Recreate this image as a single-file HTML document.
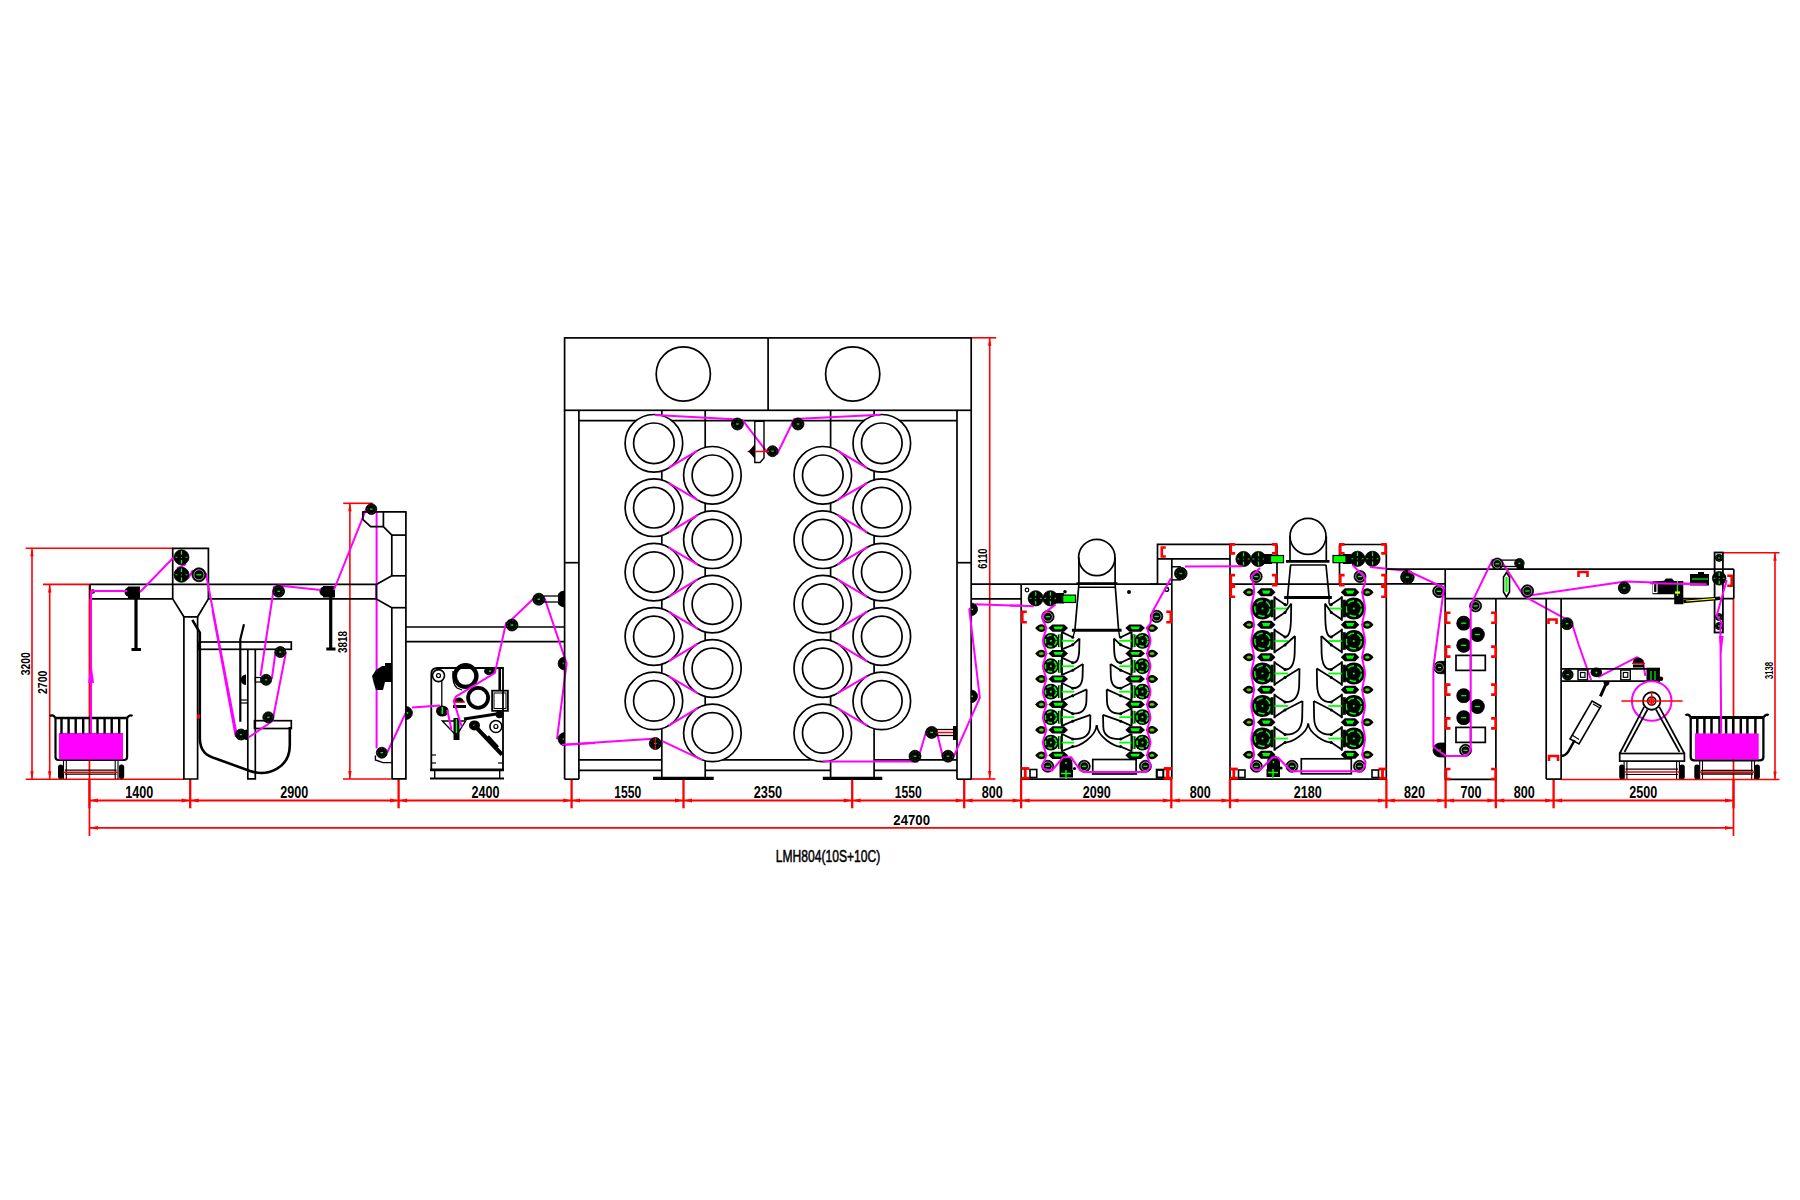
<!DOCTYPE html>
<html><head><meta charset="utf-8"><style>
html,body{margin:0;padding:0;background:#fff;width:1800px;height:1200px;overflow:hidden}
svg{display:block}
.k{stroke:#000;stroke-width:1.7;fill:none}
.kf{fill:#000;stroke:none}
.bf{fill:#000;stroke:#000;stroke-width:0.8}
.w{stroke:#fff;fill:none}
.wk{stroke:#000;stroke-width:1.7;fill:#fff}
.r{stroke:#f00;stroke-width:1.6;fill:none}
.rf{fill:#f00;stroke:none}
.m{stroke:#f0f;stroke-width:2;fill:none;stroke-linejoin:round}
.mf{fill:#f0f;stroke:none}
.g{stroke:#0f0;fill:none}
.gf{fill:#0f0;stroke:none}
.y{stroke:#ff0;fill:none}
.t{font-family:"Liberation Sans",sans-serif;font-weight:bold;fill:#000}
text{-webkit-font-smoothing:antialiased}
.t2{font-family:"Liberation Sans",sans-serif;fill:#000;stroke:#000;stroke-width:0.5}
</style></head><body>
<svg width="1800" height="1200" viewBox="0 0 1800 1200">
<line class="r" x1="89.45" y1="800.5" x2="1733.5" y2="800.5" style="stroke-width:1.8"/>
<line class="r" x1="89.45" y1="779" x2="89.45" y2="808.3" style="stroke-width:2.3"/>
<polygon class="rf" points="89.45,800.5 97.95,798.6 97.95,802.4"/>
<line class="r" x1="190.2" y1="779" x2="190.2" y2="808.3" style="stroke-width:2.3"/>
<polygon class="rf" points="190.2,800.5 181.7,798.6 181.7,802.4"/>
<polygon class="rf" points="190.2,800.5 198.7,798.6 198.7,802.4"/>
<line class="r" x1="398.6" y1="779" x2="398.6" y2="808.3" style="stroke-width:2.3"/>
<polygon class="rf" points="398.6,800.5 390.1,798.6 390.1,802.4"/>
<polygon class="rf" points="398.6,800.5 407.1,798.6 407.1,802.4"/>
<line class="r" x1="571.6" y1="779" x2="571.6" y2="808.3" style="stroke-width:2.3"/>
<polygon class="rf" points="571.6,800.5 563.1,798.6 563.1,802.4"/>
<polygon class="rf" points="571.6,800.5 580.1,798.6 580.1,802.4"/>
<line class="r" x1="683.5" y1="779" x2="683.5" y2="808.3" style="stroke-width:2.3"/>
<polygon class="rf" points="683.5,800.5 675,798.6 675,802.4"/>
<polygon class="rf" points="683.5,800.5 692,798.6 692,802.4"/>
<line class="r" x1="852.2" y1="779" x2="852.2" y2="808.3" style="stroke-width:2.3"/>
<polygon class="rf" points="852.2,800.5 843.7,798.6 843.7,802.4"/>
<polygon class="rf" points="852.2,800.5 860.7,798.6 860.7,802.4"/>
<line class="r" x1="964.2" y1="779" x2="964.2" y2="808.3" style="stroke-width:2.3"/>
<polygon class="rf" points="964.2,800.5 955.7,798.6 955.7,802.4"/>
<polygon class="rf" points="964.2,800.5 972.7,798.6 972.7,802.4"/>
<line class="r" x1="1021.1" y1="779" x2="1021.1" y2="808.3" style="stroke-width:2.3"/>
<polygon class="rf" points="1021.1,800.5 1012.6,798.6 1012.6,802.4"/>
<polygon class="rf" points="1021.1,800.5 1029.6,798.6 1029.6,802.4"/>
<line class="r" x1="1171.3" y1="779" x2="1171.3" y2="808.3" style="stroke-width:2.3"/>
<polygon class="rf" points="1171.3,800.5 1162.8,798.6 1162.8,802.4"/>
<polygon class="rf" points="1171.3,800.5 1179.8,798.6 1179.8,802.4"/>
<line class="r" x1="1230" y1="779" x2="1230" y2="808.3" style="stroke-width:2.3"/>
<polygon class="rf" points="1230,800.5 1221.5,798.6 1221.5,802.4"/>
<polygon class="rf" points="1230,800.5 1238.5,798.6 1238.5,802.4"/>
<line class="r" x1="1386.4" y1="779" x2="1386.4" y2="808.3" style="stroke-width:2.3"/>
<polygon class="rf" points="1386.4,800.5 1377.9,798.6 1377.9,802.4"/>
<polygon class="rf" points="1386.4,800.5 1394.9,798.6 1394.9,802.4"/>
<line class="r" x1="1445.6" y1="779" x2="1445.6" y2="808.3" style="stroke-width:2.3"/>
<polygon class="rf" points="1445.6,800.5 1437.1,798.6 1437.1,802.4"/>
<polygon class="rf" points="1445.6,800.5 1454.1,798.6 1454.1,802.4"/>
<line class="r" x1="1495.8" y1="779" x2="1495.8" y2="808.3" style="stroke-width:2.3"/>
<polygon class="rf" points="1495.8,800.5 1487.3,798.6 1487.3,802.4"/>
<polygon class="rf" points="1495.8,800.5 1504.3,798.6 1504.3,802.4"/>
<line class="r" x1="1553.6" y1="779" x2="1553.6" y2="808.3" style="stroke-width:2.3"/>
<polygon class="rf" points="1553.6,800.5 1545.1,798.6 1545.1,802.4"/>
<polygon class="rf" points="1553.6,800.5 1562.1,798.6 1562.1,802.4"/>
<line class="r" x1="1733.5" y1="779" x2="1733.5" y2="808.3" style="stroke-width:2.3"/>
<polygon class="rf" points="1733.5,800.5 1725,798.6 1725,802.4"/>
<line class="r" x1="89.45" y1="827.8" x2="1733.5" y2="827.8" style="stroke-width:1.8"/>
<polygon class="rf" points="89.45,827.8 97.95,825.9 97.95,829.7"/>
<polygon class="rf" points="1733.5,827.8 1725,825.9 1725,829.7"/>
<line class="r" x1="89.45" y1="584.4" x2="89.45" y2="836" style="stroke-width:1.7"/>
<line class="r" x1="1733.5" y1="598.5" x2="1733.5" y2="836" style="stroke-width:1.7"/>
<text class="t" x="139.2" y="797.5" font-size="15.8" text-anchor="middle" textLength="28" lengthAdjust="spacingAndGlyphs">1400</text>
<text class="t" x="294.3" y="797.5" font-size="15.8" text-anchor="middle" textLength="28" lengthAdjust="spacingAndGlyphs">2900</text>
<text class="t" x="485.4" y="797.5" font-size="15.8" text-anchor="middle" textLength="28" lengthAdjust="spacingAndGlyphs">2400</text>
<text class="t" x="627.7" y="797.5" font-size="15.8" text-anchor="middle" textLength="27" lengthAdjust="spacingAndGlyphs">1550</text>
<text class="t" x="767.9" y="797.5" font-size="15.8" text-anchor="middle" textLength="28.3" lengthAdjust="spacingAndGlyphs">2350</text>
<text class="t" x="908.3" y="797.5" font-size="15.8" text-anchor="middle" textLength="27" lengthAdjust="spacingAndGlyphs">1550</text>
<text class="t" x="992.2" y="797.5" font-size="15.8" text-anchor="middle" textLength="21" lengthAdjust="spacingAndGlyphs">800</text>
<text class="t" x="1096.7" y="797.5" font-size="15.8" text-anchor="middle" textLength="28" lengthAdjust="spacingAndGlyphs">2090</text>
<text class="t" x="1200.2" y="797.5" font-size="15.8" text-anchor="middle" textLength="21" lengthAdjust="spacingAndGlyphs">800</text>
<text class="t" x="1307.8" y="797.5" font-size="15.8" text-anchor="middle" textLength="28" lengthAdjust="spacingAndGlyphs">2180</text>
<text class="t" x="1414.4" y="797.5" font-size="15.8" text-anchor="middle" textLength="21" lengthAdjust="spacingAndGlyphs">820</text>
<text class="t" x="1470.9" y="797.5" font-size="15.8" text-anchor="middle" textLength="21" lengthAdjust="spacingAndGlyphs">700</text>
<text class="t" x="1524.2" y="797.5" font-size="15.8" text-anchor="middle" textLength="21" lengthAdjust="spacingAndGlyphs">800</text>
<text class="t" x="1643.3" y="797.5" font-size="15.8" text-anchor="middle" textLength="28" lengthAdjust="spacingAndGlyphs">2500</text>
<text class="t" x="911.7" y="824.8" font-size="15.3" text-anchor="middle" textLength="36.7" lengthAdjust="spacingAndGlyphs">24700</text>
<text class="t2" x="775.8" y="862" font-size="16" text-anchor="start" textLength="104.5" lengthAdjust="spacingAndGlyphs">LMH804(10S+10C)</text>
<line class="r" x1="25.7" y1="548.2" x2="172.7" y2="548.2"/>
<line class="r" x1="32" y1="548.2" x2="32" y2="779.2"/>
<polygon class="rf" points="32,548.2 30.3,556.2 33.7,556.2"/>
<polygon class="rf" points="32,779.2 30.3,771.2 33.7,771.2"/>
<line class="r" x1="43" y1="584.4" x2="90" y2="584.4"/>
<line class="r" x1="49.7" y1="584.4" x2="49.7" y2="779.2"/>
<polygon class="rf" points="49.7,584.4 48,592.4 51.4,592.4"/>
<polygon class="rf" points="49.7,779.2 48,771.2 51.4,771.2"/>
<line class="r" x1="25.7" y1="779.2" x2="184" y2="779.2"/>
<text class="t" x="29.9" y="663.8" font-size="13.2" text-anchor="middle" textLength="23" lengthAdjust="spacingAndGlyphs" transform="rotate(-90 29.9 663.8)">3200</text>
<text class="t" x="47.3" y="682.3" font-size="13.2" text-anchor="middle" textLength="23.3" lengthAdjust="spacingAndGlyphs" transform="rotate(-90 47.3 682.3)">2700</text>
<line class="r" x1="343.2" y1="503.3" x2="372.6" y2="503.3"/>
<line class="r" x1="349.9" y1="503.3" x2="349.9" y2="779"/>
<polygon class="rf" points="349.9,503.3 348.2,511.3 351.6,511.3"/>
<polygon class="rf" points="349.9,779 348.2,771 351.6,771"/>
<line class="r" x1="343" y1="779" x2="391" y2="779"/>
<text class="t" x="347" y="642" font-size="12.7" text-anchor="middle" textLength="22" lengthAdjust="spacingAndGlyphs" transform="rotate(-90 347 642)">3818</text>
<line class="r" x1="971" y1="337.8" x2="996.2" y2="337.8"/>
<line class="r" x1="989.7" y1="337.8" x2="989.7" y2="779"/>
<polygon class="rf" points="989.7,337.8 988,345.8 991.4,345.8"/>
<polygon class="rf" points="989.7,779 988,771 991.4,771"/>
<line class="r" x1="971" y1="779" x2="995.4" y2="779"/>
<text class="t" x="987.25" y="558.6" font-size="12.7" text-anchor="middle" textLength="20.25" lengthAdjust="spacingAndGlyphs" transform="rotate(-90 987.25 558.6)">6110</text>
<line class="r" x1="1723.3" y1="552.8" x2="1779.5" y2="552.8"/>
<line class="r" x1="1775" y1="552.8" x2="1775" y2="779.5"/>
<polygon class="rf" points="1775,552.8 1773.3,560.8 1776.7,560.8"/>
<polygon class="rf" points="1775,779.5 1773.3,771.5 1776.7,771.5"/>
<line class="r" x1="1561" y1="779.5" x2="1779.5" y2="779.5"/>
<text class="t" x="1772.75" y="670.5" font-size="10.6" text-anchor="middle" textLength="17" lengthAdjust="spacingAndGlyphs" transform="rotate(-90 1772.75 670.5)">3138</text>
<line class="k" x1="90" y1="584.4" x2="376.3" y2="584.4"/>
<line class="k" x1="90" y1="598.9" x2="172.7" y2="598.9"/>
<line class="k" x1="208.4" y1="598.9" x2="376.3" y2="598.9"/>
<line class="k" x1="90" y1="584.4" x2="90" y2="598.9"/>
<polyline class="k" points="172.7,598.9 172.7,548.3 208.4,548.3 208.4,598.9"/>
<polyline class="k" points="172.7,598.9 183.9,616.8 197.6,616.8 208.4,598.9"/>
<polyline class="k" points="183.9,616.8 183.9,779 197.6,779 197.6,616.8"/>
<line class="k" x1="136" y1="596" x2="136" y2="649" style="stroke-width:3.2"/>
<line class="k" x1="131.5" y1="649.5" x2="141" y2="649.5" style="stroke-width:3"/>
<path class="kf" d="M128,586.5 h12 v11.5 h-12 z"/>
<circle class="kf" cx="129.5" cy="592" r="5"/>
<circle class="k" cx="92.8" cy="591.5" r="1.6" style="stroke-width:1.2"/>
<line class="k" x1="330.7" y1="596" x2="330.7" y2="648.6" style="stroke-width:3.2"/>
<line class="k" x1="326.3" y1="649" x2="335.5" y2="649" style="stroke-width:3"/>
<path class="kf" d="M323,586 h12 v11.5 h-12 z"/>
<circle class="kf" cx="324.5" cy="591.5" r="5"/>
<path class="k" d="M50,716.2 q2.5,-2.5 5.5,1.8" style="stroke-width:2.2"/>
<path class="k" d="M127,718 q3,-4 5.5,-2" style="stroke-width:2.2"/>
<line class="k" x1="55.5" y1="718" x2="127.1" y2="718" style="stroke-width:2.4"/>
<path class="k" d="M55.5,718 L55.5,757 Q55.5,760 58.5,760 L124,760 Q127.1,760 127.1,757 L127.1,718" style="stroke-width:2.2"/>
<rect class="mf" x="58.9" y="733" width="64.1" height="26.6"/>
<line class="k" x1="61.5" y1="718" x2="61.5" y2="733.5" style="stroke-width:2.4"/>
<line class="k" x1="68.6" y1="718" x2="68.6" y2="733.5" style="stroke-width:2.4"/>
<line class="k" x1="75.7" y1="718" x2="75.7" y2="733.5" style="stroke-width:2.4"/>
<line class="k" x1="83.2" y1="718" x2="83.2" y2="733.5" style="stroke-width:2.4"/>
<line class="k" x1="90" y1="718" x2="90" y2="733.5" style="stroke-width:2.4"/>
<line class="k" x1="97.5" y1="718" x2="97.5" y2="733.5" style="stroke-width:2.4"/>
<line class="k" x1="104.6" y1="718" x2="104.6" y2="733.5" style="stroke-width:2.4"/>
<line class="k" x1="111.7" y1="718" x2="111.7" y2="733.5" style="stroke-width:2.4"/>
<line class="k" x1="119.2" y1="718" x2="119.2" y2="733.5" style="stroke-width:2.4"/>
<line class="k" x1="63.5" y1="760" x2="63.5" y2="779" style="stroke-width:1.1"/>
<line class="k" x1="66.3" y1="760" x2="66.3" y2="779" style="stroke-width:1.1"/>
<line class="k" x1="115.2" y1="760" x2="115.2" y2="779" style="stroke-width:1.1"/>
<line class="k" x1="118" y1="760" x2="118" y2="779" style="stroke-width:1.1"/>
<line class="k" x1="64.9" y1="770.1" x2="116.6" y2="770.1" style="stroke-width:1.2"/>
<line class="k" x1="64.9" y1="774.2" x2="116.6" y2="774.2" style="stroke-width:1.2"/>
<line class="r" x1="63" y1="772.2" x2="118" y2="772.2" style="stroke-width:1.5"/>
<rect x="58" y="764.5" width="5.3" height="14.5" rx="2.5" style="fill:#000"/>
<rect x="118.9" y="764.5" width="5.3" height="14.5" rx="2.5" style="fill:#000"/>
<path class="m" d="M91,733 L91,591 L127,591"/>
<polygon class="mf" points="91,660 88.2,683 94,683"/>
<path class="m" d="M140,592 L174.5,556.5 M186,564 L177,568.5 M188,578.5 L193,570 M205.8,573 L236.6,734"/>
<circle class="bf" cx="181.5" cy="557.3" r="7.5"/>
<line class="g" x1="181.5" y1="550.92" x2="181.5" y2="554.67" style="stroke-width:1.2"/>
<line class="g" x1="181.5" y1="559.92" x2="181.5" y2="563.67" style="stroke-width:1.2"/>
<line class="g" x1="175.5" y1="557.3" x2="177.38" y2="557.3" style="stroke-width:1"/>
<line class="g" x1="185.62" y1="557.3" x2="187.5" y2="557.3" style="stroke-width:1"/>
<circle class="gf" cx="181.5" cy="557.3" r="0.6"/>
<circle class="bf" cx="181.5" cy="574.8" r="7.5"/>
<line class="g" x1="181.5" y1="568.42" x2="181.5" y2="572.17" style="stroke-width:1.2"/>
<line class="g" x1="181.5" y1="577.42" x2="181.5" y2="581.17" style="stroke-width:1.2"/>
<line class="g" x1="175.5" y1="574.8" x2="177.38" y2="574.8" style="stroke-width:1"/>
<line class="g" x1="185.62" y1="574.8" x2="187.5" y2="574.8" style="stroke-width:1"/>
<circle class="gf" cx="181.5" cy="574.8" r="0.6"/>
<circle class="bf" cx="198.9" cy="574.8" r="7"/>
<circle class="w" cx="198.9" cy="574.8" r="5.04" style="stroke-width:0.6"/>
<line class="g" x1="196.45" y1="574.8" x2="201.35" y2="574.8" style="stroke-width:1.3"/>
<path class="k" d="M192.3,619.8 L199.8,632.5 L199.8,737.5 C199.8,752 207,756 217,759 L250,771 C268,777 290,768 289.8,745 L289.8,727" style="stroke-width:2.6"/>
<rect class="k" x="199" y="642" width="92.3" height="7.3"/>
<polyline class="k" points="247.8,649.3 247.8,778.8 255.3,778.8 255.3,649.3"/>
<path class="k" d="M244,624.3 L240.3,639.3 L240.3,721.8" style="stroke-width:2.2"/>
<line class="k" x1="240.3" y1="700" x2="247.8" y2="700" style="stroke-width:1.2"/>
<line class="k" x1="240.3" y1="703" x2="247.8" y2="703" style="stroke-width:1.2"/>
<rect class="k" x="254.5" y="720.7" width="36.8" height="7.8"/>
<rect class="k" x="255.3" y="677.5" width="5.7" height="4.5" style="stroke-width:1.2"/>
<rect class="rf" x="197" y="714.5" width="3" height="4"/>
<path class="m" d="M236.6,734 L236.6,735 M248.5,737.5 L272.5,721 L286,652 M275.5,652 L271.8,679 M260.5,676 L274,587 L278.7,585.5 L320.6,590 M333.9,590 L367.2,506.5 M376.6,511.3 L376.6,748.5 M387.2,752.5 L405.9,712.5"/>
<path class="m" d="M212.5,610 L235.8,736.8"/>
<circle class="bf" cx="280.3" cy="652" r="5.5"/>
<circle cx="280.3" cy="652" r="4.12" style="fill:none;stroke:#2a7a2a;stroke-width:0.6;stroke-dasharray:1.5 1.5"/>
<line class="g" x1="279.09" y1="652" x2="281.51" y2="652" style="stroke-width:1.3"/>
<circle class="bf" cx="266.1" cy="679.8" r="5.5"/>
<circle cx="266.1" cy="679.8" r="4.12" style="fill:none;stroke:#2a7a2a;stroke-width:0.6;stroke-dasharray:1.5 1.5"/>
<line class="g" x1="264.89" y1="679.8" x2="267.31" y2="679.8" style="stroke-width:1.3"/>
<circle class="bf" cx="268.3" cy="717.3" r="5.5"/>
<circle cx="268.3" cy="717.3" r="4.12" style="fill:none;stroke:#2a7a2a;stroke-width:0.6;stroke-dasharray:1.5 1.5"/>
<line class="g" x1="267.09" y1="717.3" x2="269.51" y2="717.3" style="stroke-width:1.3"/>
<circle class="bf" cx="241" cy="734.5" r="5.5"/>
<circle cx="241" cy="734.5" r="4.12" style="fill:none;stroke:#2a7a2a;stroke-width:0.6;stroke-dasharray:1.5 1.5"/>
<line class="g" x1="239.79" y1="734.5" x2="242.21" y2="734.5" style="stroke-width:1.3"/>
<path class="kf" d="M246,674.5 a5,5 0 0,0 0,10.5 z"/>
<path class="kf" d="M247,729.5 a5,5 0 0,0 0,10.5 z"/>
<circle class="bf" cx="278.7" cy="591.3" r="5.9"/>
<circle cx="278.7" cy="591.3" r="4.43" style="fill:none;stroke:#2a7a2a;stroke-width:0.6;stroke-dasharray:1.5 1.5"/>
<line class="g" x1="277.4" y1="591.3" x2="280" y2="591.3" style="stroke-width:1.3"/>
<polyline class="k" points="362.2,511.8 405.9,511.8 405.9,778.9 392.1,778.9 391.8,607.7 376.3,599.1 376.3,584.4 391.8,575.8 391.8,535.1 383.4,526.7 383.4,511.8"/>
<polyline class="k" points="362.8,511.8 362.8,519.4 370.7,526.7 383.4,526.7"/>
<line class="k" x1="391.8" y1="535.1" x2="405.9" y2="535.1"/>
<line class="k" x1="391.8" y1="575.8" x2="405.9" y2="575.8"/>
<line class="k" x1="391.8" y1="607.7" x2="405.9" y2="607.7"/>
<circle class="bf" cx="371.4" cy="509.1" r="5.4"/>
<circle cx="371.4" cy="509.1" r="4.05" style="fill:none;stroke:#2a7a2a;stroke-width:0.6;stroke-dasharray:1.5 1.5"/>
<line class="g" x1="370.21" y1="509.1" x2="372.59" y2="509.1" style="stroke-width:1.3"/>
<path class="kf" d="M372,676 L376,670 L382,666 L385,666 L385,663 L392,663 L392,682 L385,682 L383,690 L376,690 L374,684 Z"/>
<path class="k" d="M375.4,755.6 L375.4,760 L383,762.6 L392.1,762.6" style="stroke-width:1.4"/>
<circle class="bf" cx="381.8" cy="752.7" r="5.5"/>
<circle cx="381.8" cy="752.7" r="4.12" style="fill:none;stroke:#2a7a2a;stroke-width:0.6;stroke-dasharray:1.5 1.5"/>
<line class="g" x1="380.59" y1="752.7" x2="383.01" y2="752.7" style="stroke-width:1.3"/>
<path class="bf" d="M405.9,706.5 A6.5,6.5 0 1,1 405.9,719.5 Z"/>
<circle class="gf" cx="407.5" cy="713" r="0.9"/>
<line class="k" x1="405.9" y1="627" x2="564.7" y2="627"/>
<line class="k" x1="405.9" y1="641.7" x2="564.7" y2="641.7"/>
<path class="k" d="M431.3,769.8 L431.3,674 Q431.3,668 437.5,668 L503,668 L503,769.8" style="stroke-width:1.8"/>
<line class="k" x1="430" y1="769.8" x2="504" y2="769.8" style="stroke-width:2.8"/>
<line class="k" x1="430" y1="778.5" x2="504" y2="778.5" style="stroke-width:2.2"/>
<line class="k" x1="434.7" y1="769.8" x2="434.7" y2="778.5" style="stroke-width:1.4"/>
<line class="k" x1="499.7" y1="769.8" x2="499.7" y2="778.5" style="stroke-width:1.4"/>
<line class="k" x1="431" y1="755" x2="436" y2="755" style="stroke-width:1.2"/>
<line class="k" x1="431" y1="763" x2="436" y2="763" style="stroke-width:1.2"/>
<line class="k" x1="498" y1="763" x2="503" y2="763" style="stroke-width:1.2"/>
<circle class="k" cx="465.6" cy="676.1" r="10.8" style="stroke-width:4.4"/>
<circle class="k" cx="478.1" cy="697.8" r="10" style="stroke-width:3.8"/>
<path class="k" d="M453,671 Q452,684 457,688 L462,690" style="stroke-width:1.3"/>
<circle class="k" cx="438.5" cy="675.6" r="6" style="stroke-width:1.6"/>
<circle class="k" cx="438.5" cy="675.6" r="2" style="stroke-width:1.2"/>
<circle class="k" cx="495.9" cy="726.5" r="6" style="stroke-width:1.6"/>
<circle class="k" cx="495.9" cy="726.5" r="2" style="stroke-width:1.2"/>
<line class="k" x1="441.8" y1="681" x2="441.8" y2="706" style="stroke-width:1.3"/>
<path class="kf" d="M436,711 a6.3,5.6 0 1,0 12.6,0 a6.3,5.6 0 1,0 -12.6,0"/>
<line class="g" x1="442.3" y1="707" x2="442.3" y2="714" style="stroke-width:1.5"/>
<path class="kf" d="M484,671.2 a6,4 0 1,0 12,0 a6,4 0 1,0 -12,0"/>
<circle class="gf" cx="490" cy="671.2" r="1"/>
<path class="kf" d="M454,702.5 a5,5 0 0,1 10,0 z"/>
<line class="r" x1="453" y1="702" x2="465" y2="702" style="stroke-width:1.2"/>
<rect class="kf" x="453" y="705" width="13" height="3"/>
<polygon class="k" points="442.3,721 465.6,721 456.4,735.7" style="stroke-width:1.4"/>
<rect class="kf" x="453.5" y="718" width="6" height="22"/>
<line class="g" x1="456.4" y1="719" x2="456.4" y2="733" style="stroke-width:1.4"/>
<line class="k" x1="499.7" y1="668" x2="499.7" y2="690" style="stroke-width:2.6"/>
<rect class="k" x="492.1" y="690.7" width="15.8" height="20.1" style="stroke-width:1.8"/>
<rect class="k" x="494" y="693" width="12" height="15.5" style="stroke-width:1"/>
<line class="k" x1="464" y1="719" x2="499.7" y2="713.5" style="stroke-width:3.2"/>
<circle class="kf" cx="499.5" cy="714.4" r="3.8"/>
<path class="kf" d="M469,725.4 a5.5,5 0 1,0 11,0 a5.5,5 0 1,0 -11,0"/>
<circle class="gf" cx="474.3" cy="725.4" r="1"/>
<line class="k" x1="474.3" y1="725.4" x2="502" y2="754.6" style="stroke-width:4.2"/>
<line class="k" x1="487" y1="737" x2="497" y2="748" style="stroke-width:5.2"/>
<path class="m" d="M412,707.6 L440.2,705.4 M447.2,709.7 L451.5,729.7 M461.8,727 L453.7,701 L455.9,696.7 L494.9,672.9 L506.2,622.2 M512,619.3 L536,596.3 M544.6,598.2 L566.6,663.4 L557,739.2 M561.8,744.9 L595,743"/>
<circle class="bf" cx="512" cy="625" r="6"/>
<circle cx="512" cy="625" r="4.5" style="fill:none;stroke:#2a7a2a;stroke-width:0.6;stroke-dasharray:1.5 1.5"/>
<line class="g" x1="510.68" y1="625" x2="513.32" y2="625" style="stroke-width:1.3"/>
<circle class="bf" cx="538.8" cy="599.2" r="6"/>
<circle cx="538.8" cy="599.2" r="4.5" style="fill:none;stroke:#2a7a2a;stroke-width:0.6;stroke-dasharray:1.5 1.5"/>
<line class="g" x1="537.48" y1="599.2" x2="540.12" y2="599.2" style="stroke-width:1.3"/>
<path class="bf" d="M564.6,657 A6.3,6.3 0 1,0 564.6,670 Z"/>
<circle class="gf" cx="563.5" cy="663.4" r="0.9"/>
<path class="bf" d="M564.6,732.6 A6.3,6.3 0 1,0 564.6,745.6 Z"/>
<circle class="gf" cx="563.5" cy="739.2" r="0.9"/>
<line class="k" x1="544" y1="596" x2="561" y2="596" style="stroke-width:1.3"/>
<line class="k" x1="544" y1="602" x2="561" y2="602" style="stroke-width:1.3"/>
<path class="kf" d="M558,594 Q561,590 564.6,591 L564.6,607 Q561,608 558,604 Z"/>
<rect class="k" x="564.6" y="337.9" width="406.6" height="72.4"/>
<line class="k" x1="768.1" y1="337.9" x2="768.1" y2="410.3"/>
<circle class="k" cx="683.3" cy="374" r="27.1"/>
<circle class="k" cx="852.7" cy="374" r="27.1"/>
<line class="k" x1="564.6" y1="410.3" x2="564.6" y2="779.2"/>
<line class="k" x1="578.9" y1="410.3" x2="578.9" y2="779.2"/>
<line class="k" x1="564.6" y1="779.2" x2="578.9" y2="779.2"/>
<line class="k" x1="971.2" y1="410.3" x2="971.2" y2="779.2"/>
<line class="k" x1="957" y1="410.3" x2="957" y2="779.2"/>
<line class="k" x1="957" y1="779.2" x2="971.2" y2="779.2"/>
<line class="k" x1="564.6" y1="562.7" x2="578.9" y2="562.7"/>
<line class="k" x1="957" y1="562.7" x2="971.2" y2="562.7"/>
<line class="k" x1="578.9" y1="420.7" x2="957" y2="420.7"/>
<line class="k" x1="661.8" y1="410.3" x2="661.8" y2="779.2"/>
<line class="k" x1="705.2" y1="410.3" x2="705.2" y2="779.2"/>
<line class="k" x1="830.6" y1="410.3" x2="830.6" y2="779.2"/>
<line class="k" x1="874.1" y1="410.3" x2="874.1" y2="779.2"/>
<line class="k" x1="661.8" y1="779.2" x2="705.2" y2="779.2" style="stroke-width:1.5"/>
<line class="k" x1="830.6" y1="779.2" x2="874.1" y2="779.2" style="stroke-width:1.5"/>
<line class="k" x1="653" y1="778.4" x2="713.7" y2="778.4" style="stroke-width:3.2"/>
<line class="k" x1="822.8" y1="778.4" x2="882.3" y2="778.4" style="stroke-width:3.2"/>
<line class="k" x1="578.9" y1="759.8" x2="661.8" y2="759.8"/>
<line class="k" x1="578.9" y1="770.3" x2="661.8" y2="770.3"/>
<line class="k" x1="705.2" y1="759.8" x2="830.6" y2="759.8"/>
<line class="k" x1="705.2" y1="770.3" x2="830.6" y2="770.3"/>
<line class="k" x1="874.1" y1="759.8" x2="957" y2="759.8"/>
<line class="k" x1="874.1" y1="770.3" x2="957" y2="770.3"/>
<circle class="wk" cx="653.9" cy="443.3" r="28.8"/>
<circle class="k" cx="653.9" cy="443.3" r="20.3"/>
<circle class="wk" cx="712.4" cy="475.3" r="28.8"/>
<circle class="k" cx="712.4" cy="475.3" r="20.3"/>
<circle class="wk" cx="822.8" cy="475.3" r="28.8"/>
<circle class="k" cx="822.8" cy="475.3" r="20.3"/>
<circle class="wk" cx="881.8" cy="443.3" r="28.8"/>
<circle class="k" cx="881.8" cy="443.3" r="20.3"/>
<circle class="wk" cx="653.9" cy="507.7" r="28.8"/>
<circle class="k" cx="653.9" cy="507.7" r="20.3"/>
<circle class="wk" cx="712.4" cy="539.7" r="28.8"/>
<circle class="k" cx="712.4" cy="539.7" r="20.3"/>
<circle class="wk" cx="822.8" cy="539.7" r="28.8"/>
<circle class="k" cx="822.8" cy="539.7" r="20.3"/>
<circle class="wk" cx="881.8" cy="507.7" r="28.8"/>
<circle class="k" cx="881.8" cy="507.7" r="20.3"/>
<circle class="wk" cx="653.9" cy="572.1" r="28.8"/>
<circle class="k" cx="653.9" cy="572.1" r="20.3"/>
<circle class="wk" cx="712.4" cy="604.1" r="28.8"/>
<circle class="k" cx="712.4" cy="604.1" r="20.3"/>
<circle class="wk" cx="822.8" cy="604.1" r="28.8"/>
<circle class="k" cx="822.8" cy="604.1" r="20.3"/>
<circle class="wk" cx="881.8" cy="572.1" r="28.8"/>
<circle class="k" cx="881.8" cy="572.1" r="20.3"/>
<circle class="wk" cx="653.9" cy="636.5" r="28.8"/>
<circle class="k" cx="653.9" cy="636.5" r="20.3"/>
<circle class="wk" cx="712.4" cy="668.5" r="28.8"/>
<circle class="k" cx="712.4" cy="668.5" r="20.3"/>
<circle class="wk" cx="822.8" cy="668.5" r="28.8"/>
<circle class="k" cx="822.8" cy="668.5" r="20.3"/>
<circle class="wk" cx="881.8" cy="636.5" r="28.8"/>
<circle class="k" cx="881.8" cy="636.5" r="20.3"/>
<circle class="wk" cx="653.9" cy="700.9" r="28.8"/>
<circle class="k" cx="653.9" cy="700.9" r="20.3"/>
<circle class="wk" cx="712.4" cy="732.9" r="28.8"/>
<circle class="k" cx="712.4" cy="732.9" r="20.3"/>
<circle class="wk" cx="822.8" cy="732.9" r="28.8"/>
<circle class="k" cx="822.8" cy="732.9" r="20.3"/>
<circle class="wk" cx="881.8" cy="700.9" r="28.8"/>
<circle class="k" cx="881.8" cy="700.9" r="20.3"/>
<path class="m" d="M668.76,467.97 L697.54,450.63 M697.79,500.12 L668.51,482.88 M668.76,532.37 L697.54,515.03 M697.79,564.52 L668.51,547.28 M668.76,596.77 L697.54,579.43 M697.79,628.92 L668.51,611.68 M668.76,661.17 L697.54,643.83 M697.79,693.32 L668.51,676.08 M668.76,725.57 L697.54,708.23 M867.12,468.08 L837.48,450.52 M837.23,500.22 L867.37,482.78 M867.12,532.48 L837.48,514.92 M837.23,564.62 L867.37,547.18 M867.12,596.88 L837.48,579.32 M837.23,629.02 L867.37,611.58 M867.12,661.28 L837.48,643.72 M837.23,693.42 L867.37,675.98 M867.12,725.68 L837.48,708.12"/>
<path class="m" d="M655,415 L738.3,419.4 M742,419.4 L769.5,455.2 M777,454.3 L794.3,418.9 L880.5,414.8"/>
<path class="m" d="M562,744.7 L653,738.8 M662.3,741.2 L702,759.8"/>
<path class="m" d="M822.8,761.6 L917.3,761.6 L926.1,731.7 L937.1,733 L943,757.4 L952.3,759.7 L979.8,697.9 L969.3,609.3 L975.6,604.2 L1021,605.8"/>
<circle class="bf" cx="737.4" cy="424" r="6"/>
<circle cx="737.4" cy="424" r="4.5" style="fill:none;stroke:#2a7a2a;stroke-width:0.6;stroke-dasharray:1.5 1.5"/>
<line class="g" x1="736.08" y1="424" x2="738.72" y2="424" style="stroke-width:1.3"/>
<circle class="bf" cx="798" cy="424" r="6"/>
<circle cx="798" cy="424" r="4.5" style="fill:none;stroke:#2a7a2a;stroke-width:0.6;stroke-dasharray:1.5 1.5"/>
<line class="g" x1="796.68" y1="424" x2="799.32" y2="424" style="stroke-width:1.3"/>
<circle class="bf" cx="772.5" cy="451.2" r="5.5"/>
<circle cx="772.5" cy="451.2" r="4.12" style="fill:none;stroke:#2a7a2a;stroke-width:0.6;stroke-dasharray:1.5 1.5"/>
<line class="g" x1="771.29" y1="451.2" x2="773.71" y2="451.2" style="stroke-width:1.3"/>
<path class="k" d="M754.8,421.3 L764,421.3 L764,458 L760,462.5 L754.8,462.5 Z" style="stroke-width:1.4"/>
<line class="r" x1="747.5" y1="451.5" x2="769" y2="451.5" style="stroke-width:1.5"/>
<path class="kf" d="M755,444 L748.5,451.5 L755,459 Z"/>
<circle class="bf" cx="655.3" cy="743.5" r="6"/>
<circle cx="655.3" cy="743.5" r="4.5" style="fill:none;stroke:#2a7a2a;stroke-width:0.6;stroke-dasharray:1.5 1.5"/>
<line class="g" x1="653.98" y1="743.5" x2="656.62" y2="743.5" style="stroke-width:1.3"/>
<line class="r" x1="655.3" y1="738" x2="655.3" y2="749" style="stroke-width:1.2"/>
<path class="bf" d="M971.2,603 A6.3,6.3 0 1,1 971.2,615.6 Z"/>
<circle class="gf" cx="972.3" cy="609.3" r="0.9"/>
<path class="bf" d="M971.2,690 A6.3,6.3 0 1,1 971.2,702.6 Z"/>
<circle class="gf" cx="972.3" cy="696.3" r="0.9"/>
<circle class="bf" cx="931.7" cy="732.4" r="6"/>
<circle cx="931.7" cy="732.4" r="4.5" style="fill:none;stroke:#2a7a2a;stroke-width:0.6;stroke-dasharray:1.5 1.5"/>
<line class="g" x1="930.38" y1="732.4" x2="933.02" y2="732.4" style="stroke-width:1.3"/>
<circle class="bf" cx="915" cy="756.2" r="6"/>
<circle cx="915" cy="756.2" r="4.5" style="fill:none;stroke:#2a7a2a;stroke-width:0.6;stroke-dasharray:1.5 1.5"/>
<line class="g" x1="913.68" y1="756.2" x2="916.32" y2="756.2" style="stroke-width:1.3"/>
<circle class="bf" cx="948" cy="756.2" r="6"/>
<circle cx="948" cy="756.2" r="4.5" style="fill:none;stroke:#2a7a2a;stroke-width:0.6;stroke-dasharray:1.5 1.5"/>
<line class="g" x1="946.68" y1="756.2" x2="949.32" y2="756.2" style="stroke-width:1.3"/>
<line class="k" x1="936" y1="729.5" x2="957" y2="729.5" style="stroke-width:1.3"/>
<line class="k" x1="936" y1="735.5" x2="957" y2="735.5" style="stroke-width:1.3"/>
<line class="r" x1="937" y1="732.5" x2="955" y2="732.5" style="stroke-width:1.5"/>
<path class="kf" d="M953,726 h4 v14 h-4 z"/>
<line class="k" x1="971.2" y1="584.1" x2="1021.2" y2="584.1"/>
<line class="k" x1="971.2" y1="598.8" x2="1021.2" y2="598.8"/>
<line class="k" x1="1021.2" y1="584.2" x2="1171.8" y2="584.2"/>
<line class="k" x1="1021.2" y1="584.2" x2="1021.2" y2="779.2"/>
<line class="k" x1="1171.8" y1="584.2" x2="1171.8" y2="779.2"/>
<line class="k" x1="1021.2" y1="779.2" x2="1171.8" y2="779.2"/>
<path class="kf" d="M1035.15,628.07 Q1041.4,620.27 1047.65,628.07 Q1041.4,635.87 1035.15,628.07 Z"/>
<ellipse cx="1041.4" cy="628.07" rx="2.5" ry="1.56" style="fill:#0f0;stroke:#c00;stroke-width:0.5"/>
<polygon class="kf" points="1048.4,628.07 1052.4,624.47 1064.1,624.47 1068.1,628.07 1064.1,631.67 1052.4,631.67"/>
<polygon class="gf" points="1053.4,626.45 1063.1,626.45 1061.6,629.33 1054.9,629.33"/>
<path class="kf" d="M1035.15,653.52 Q1041.4,645.73 1047.65,653.52 Q1041.4,661.32 1035.15,653.52 Z"/>
<ellipse cx="1041.4" cy="653.52" rx="2.5" ry="1.56" style="fill:#0f0;stroke:#c00;stroke-width:0.5"/>
<polygon class="kf" points="1048.4,653.52 1052.4,649.92 1064.1,649.92 1068.1,653.52 1064.1,657.12 1052.4,657.12"/>
<polygon class="gf" points="1053.4,651.9 1063.1,651.9 1061.6,654.78 1054.9,654.78"/>
<path class="kf" d="M1035.15,678.98 Q1041.4,671.18 1047.65,678.98 Q1041.4,686.77 1035.15,678.98 Z"/>
<ellipse cx="1041.4" cy="678.98" rx="2.5" ry="1.56" style="fill:#0f0;stroke:#c00;stroke-width:0.5"/>
<polygon class="kf" points="1048.4,678.98 1052.4,675.38 1064.1,675.38 1068.1,678.98 1064.1,682.58 1052.4,682.58"/>
<polygon class="gf" points="1053.4,677.36 1063.1,677.36 1061.6,680.24 1054.9,680.24"/>
<path class="kf" d="M1035.15,704.43 Q1041.4,696.63 1047.65,704.43 Q1041.4,712.23 1035.15,704.43 Z"/>
<ellipse cx="1041.4" cy="704.43" rx="2.5" ry="1.56" style="fill:#0f0;stroke:#c00;stroke-width:0.5"/>
<polygon class="kf" points="1048.4,704.43 1052.4,700.83 1064.1,700.83 1068.1,704.43 1064.1,708.03 1052.4,708.03"/>
<polygon class="gf" points="1053.4,702.81 1063.1,702.81 1061.6,705.69 1054.9,705.69"/>
<path class="kf" d="M1035.15,729.88 Q1041.4,722.08 1047.65,729.88 Q1041.4,737.68 1035.15,729.88 Z"/>
<ellipse cx="1041.4" cy="729.88" rx="2.5" ry="1.56" style="fill:#0f0;stroke:#c00;stroke-width:0.5"/>
<polygon class="kf" points="1048.4,729.88 1052.4,726.28 1064.1,726.28 1068.1,729.88 1064.1,733.48 1052.4,733.48"/>
<polygon class="gf" points="1053.4,728.26 1063.1,728.26 1061.6,731.14 1054.9,731.14"/>
<path class="kf" d="M1035.15,755.33 Q1041.4,747.53 1047.65,755.33 Q1041.4,763.13 1035.15,755.33 Z"/>
<ellipse cx="1041.4" cy="755.33" rx="2.5" ry="1.56" style="fill:#0f0;stroke:#c00;stroke-width:0.5"/>
<polygon class="kf" points="1048.4,755.33 1052.4,751.73 1064.1,751.73 1068.1,755.33 1064.1,758.93 1052.4,758.93"/>
<polygon class="gf" points="1053.4,753.71 1063.1,753.71 1061.6,756.59 1054.9,756.59"/>
<circle class="kf" cx="1050.9" cy="640.8" r="7.9"/>
<circle cx="1050.9" cy="640.8" r="5.53" style="fill:none;stroke:#0f0;stroke-width:1.6;stroke-dasharray:4.74 2.37"/>
<circle class="gf" cx="1050.9" cy="640.8" r="1.1"/>
<rect class="kf" x="1057.9" y="634.48" width="3.5" height="12.64"/>
<line class="g" x1="1059.8" y1="634.48" x2="1059.8" y2="647.12" style="stroke-width:1.6"/>
<line class="k" x1="1061.9" y1="631.67" x2="1061.9" y2="649.92" style="stroke-width:2"/>
<path class="k" d="M1061.9,632.15 L1072.7,637.3 M1061.9,649.45 L1072.7,644.8" style="stroke-width:1.8"/>
<line class="g" x1="1061.9" y1="640.8" x2="1074.2" y2="640.8" style="stroke-width:1.8"/>
<circle class="kf" cx="1072.7" cy="637.3" r="1.5"/>
<circle class="kf" cx="1072.7" cy="644.8" r="1.5"/>
<path class="k" d="M1079.5,638.5 L1079.2,650.62 Q1078.7,663.25 1072.7,662.75 M1079.5,638.5 L1072.7,644.8" style="stroke-width:1.8"/>
<circle class="kf" cx="1050.9" cy="666.25" r="7.9"/>
<circle cx="1050.9" cy="666.25" r="5.53" style="fill:none;stroke:#0f0;stroke-width:1.6;stroke-dasharray:4.74 2.37"/>
<circle class="gf" cx="1050.9" cy="666.25" r="1.1"/>
<rect class="kf" x="1057.9" y="659.93" width="3.5" height="12.64"/>
<line class="g" x1="1059.8" y1="659.93" x2="1059.8" y2="672.57" style="stroke-width:1.6"/>
<line class="k" x1="1061.9" y1="657.12" x2="1061.9" y2="675.38" style="stroke-width:2"/>
<path class="k" d="M1061.9,657.6 L1072.7,662.75 M1061.9,674.9 L1072.7,670.25" style="stroke-width:1.8"/>
<line class="g" x1="1061.9" y1="666.25" x2="1074.2" y2="666.25" style="stroke-width:1.8"/>
<circle class="kf" cx="1072.7" cy="662.75" r="1.5"/>
<circle class="kf" cx="1072.7" cy="670.25" r="1.5"/>
<path class="k" d="M1082.9,663.95 L1082.6,676.08 Q1082.1,688.7 1072.7,688.2 M1082.9,663.95 L1072.7,670.25" style="stroke-width:1.8"/>
<circle class="kf" cx="1050.9" cy="691.7" r="7.9"/>
<circle cx="1050.9" cy="691.7" r="5.53" style="fill:none;stroke:#0f0;stroke-width:1.6;stroke-dasharray:4.74 2.37"/>
<circle class="gf" cx="1050.9" cy="691.7" r="1.1"/>
<rect class="kf" x="1057.9" y="685.38" width="3.5" height="12.64"/>
<line class="g" x1="1059.8" y1="685.38" x2="1059.8" y2="698.02" style="stroke-width:1.6"/>
<line class="k" x1="1061.9" y1="682.58" x2="1061.9" y2="700.83" style="stroke-width:2"/>
<path class="k" d="M1061.9,683.05 L1072.7,688.2 M1061.9,700.35 L1072.7,695.7" style="stroke-width:1.8"/>
<line class="g" x1="1061.9" y1="691.7" x2="1074.2" y2="691.7" style="stroke-width:1.8"/>
<circle class="kf" cx="1072.7" cy="688.2" r="1.5"/>
<circle class="kf" cx="1072.7" cy="695.7" r="1.5"/>
<path class="k" d="M1086.7,689.4 L1086.4,701.53 Q1085.9,714.15 1072.7,713.65 M1086.7,689.4 L1072.7,695.7" style="stroke-width:1.8"/>
<circle class="kf" cx="1050.9" cy="717.15" r="7.9"/>
<circle cx="1050.9" cy="717.15" r="5.53" style="fill:none;stroke:#0f0;stroke-width:1.6;stroke-dasharray:4.74 2.37"/>
<circle class="gf" cx="1050.9" cy="717.15" r="1.1"/>
<rect class="kf" x="1057.9" y="710.83" width="3.5" height="12.64"/>
<line class="g" x1="1059.8" y1="710.83" x2="1059.8" y2="723.47" style="stroke-width:1.6"/>
<line class="k" x1="1061.9" y1="708.03" x2="1061.9" y2="726.27" style="stroke-width:2"/>
<path class="k" d="M1061.9,708.5 L1072.7,713.65 M1061.9,725.8 L1072.7,721.15" style="stroke-width:1.8"/>
<line class="g" x1="1061.9" y1="717.15" x2="1074.2" y2="717.15" style="stroke-width:1.8"/>
<circle class="kf" cx="1072.7" cy="713.65" r="1.5"/>
<circle class="kf" cx="1072.7" cy="721.15" r="1.5"/>
<path class="k" d="M1090.4,714.85 L1090.1,726.98 Q1089.6,739.6 1072.7,739.1 M1090.4,714.85 L1072.7,721.15" style="stroke-width:1.8"/>
<circle class="kf" cx="1050.9" cy="742.6" r="7.9"/>
<circle cx="1050.9" cy="742.6" r="5.53" style="fill:none;stroke:#0f0;stroke-width:1.6;stroke-dasharray:4.74 2.37"/>
<circle class="gf" cx="1050.9" cy="742.6" r="1.1"/>
<rect class="kf" x="1057.9" y="736.28" width="3.5" height="12.64"/>
<line class="g" x1="1059.8" y1="736.28" x2="1059.8" y2="748.92" style="stroke-width:1.6"/>
<line class="k" x1="1061.9" y1="733.48" x2="1061.9" y2="751.73" style="stroke-width:2"/>
<path class="k" d="M1061.9,733.95 L1072.7,739.1 M1061.9,751.25 L1072.7,746.6" style="stroke-width:1.8"/>
<line class="g" x1="1061.9" y1="742.6" x2="1074.2" y2="742.6" style="stroke-width:1.8"/>
<circle class="kf" cx="1072.7" cy="739.1" r="1.5"/>
<circle class="kf" cx="1072.7" cy="746.6" r="1.5"/>
<path class="k" d="M1096.7,725 C1095.7,737.32 1078.7,746.6 1072.7,746.6" style="stroke-width:1.8"/>
<path class="kf" d="M1145.75,628.07 Q1152,620.27 1158.25,628.07 Q1152,635.87 1145.75,628.07 Z"/>
<ellipse cx="1152" cy="628.07" rx="2.5" ry="1.56" style="fill:#0f0;stroke:#c00;stroke-width:0.5"/>
<polygon class="kf" points="1145,628.07 1141,624.47 1129.3,624.47 1125.3,628.07 1129.3,631.67 1141,631.67"/>
<polygon class="gf" points="1140,626.45 1130.3,626.45 1131.8,629.33 1138.5,629.33"/>
<path class="kf" d="M1145.75,653.52 Q1152,645.73 1158.25,653.52 Q1152,661.32 1145.75,653.52 Z"/>
<ellipse cx="1152" cy="653.52" rx="2.5" ry="1.56" style="fill:#0f0;stroke:#c00;stroke-width:0.5"/>
<polygon class="kf" points="1145,653.52 1141,649.92 1129.3,649.92 1125.3,653.52 1129.3,657.12 1141,657.12"/>
<polygon class="gf" points="1140,651.9 1130.3,651.9 1131.8,654.78 1138.5,654.78"/>
<path class="kf" d="M1145.75,678.98 Q1152,671.18 1158.25,678.98 Q1152,686.77 1145.75,678.98 Z"/>
<ellipse cx="1152" cy="678.98" rx="2.5" ry="1.56" style="fill:#0f0;stroke:#c00;stroke-width:0.5"/>
<polygon class="kf" points="1145,678.98 1141,675.38 1129.3,675.38 1125.3,678.98 1129.3,682.58 1141,682.58"/>
<polygon class="gf" points="1140,677.36 1130.3,677.36 1131.8,680.24 1138.5,680.24"/>
<path class="kf" d="M1145.75,704.43 Q1152,696.63 1158.25,704.43 Q1152,712.23 1145.75,704.43 Z"/>
<ellipse cx="1152" cy="704.43" rx="2.5" ry="1.56" style="fill:#0f0;stroke:#c00;stroke-width:0.5"/>
<polygon class="kf" points="1145,704.43 1141,700.83 1129.3,700.83 1125.3,704.43 1129.3,708.03 1141,708.03"/>
<polygon class="gf" points="1140,702.81 1130.3,702.81 1131.8,705.69 1138.5,705.69"/>
<path class="kf" d="M1145.75,729.88 Q1152,722.08 1158.25,729.88 Q1152,737.68 1145.75,729.88 Z"/>
<ellipse cx="1152" cy="729.88" rx="2.5" ry="1.56" style="fill:#0f0;stroke:#c00;stroke-width:0.5"/>
<polygon class="kf" points="1145,729.88 1141,726.28 1129.3,726.28 1125.3,729.88 1129.3,733.48 1141,733.48"/>
<polygon class="gf" points="1140,728.26 1130.3,728.26 1131.8,731.14 1138.5,731.14"/>
<path class="kf" d="M1145.75,755.33 Q1152,747.53 1158.25,755.33 Q1152,763.13 1145.75,755.33 Z"/>
<ellipse cx="1152" cy="755.33" rx="2.5" ry="1.56" style="fill:#0f0;stroke:#c00;stroke-width:0.5"/>
<polygon class="kf" points="1145,755.33 1141,751.73 1129.3,751.73 1125.3,755.33 1129.3,758.93 1141,758.93"/>
<polygon class="gf" points="1140,753.71 1130.3,753.71 1131.8,756.59 1138.5,756.59"/>
<circle class="kf" cx="1142.5" cy="640.8" r="7.9"/>
<circle cx="1142.5" cy="640.8" r="5.53" style="fill:none;stroke:#0f0;stroke-width:1.6;stroke-dasharray:4.74 2.37"/>
<circle class="gf" cx="1142.5" cy="640.8" r="1.1"/>
<rect class="kf" x="1132" y="634.48" width="3.5" height="12.64"/>
<line class="g" x1="1133.6" y1="634.48" x2="1133.6" y2="647.12" style="stroke-width:1.6"/>
<line class="k" x1="1131.5" y1="631.67" x2="1131.5" y2="649.92" style="stroke-width:2"/>
<path class="k" d="M1131.5,632.15 L1120.7,637.3 M1131.5,649.45 L1120.7,644.8" style="stroke-width:1.8"/>
<line class="g" x1="1131.5" y1="640.8" x2="1119.2" y2="640.8" style="stroke-width:1.8"/>
<circle class="kf" cx="1120.7" cy="637.3" r="1.5"/>
<circle class="kf" cx="1120.7" cy="644.8" r="1.5"/>
<path class="k" d="M1113.9,638.5 L1114.2,650.62 Q1114.7,663.25 1120.7,662.75 M1113.9,638.5 L1120.7,644.8" style="stroke-width:1.8"/>
<circle class="kf" cx="1142.5" cy="666.25" r="7.9"/>
<circle cx="1142.5" cy="666.25" r="5.53" style="fill:none;stroke:#0f0;stroke-width:1.6;stroke-dasharray:4.74 2.37"/>
<circle class="gf" cx="1142.5" cy="666.25" r="1.1"/>
<rect class="kf" x="1132" y="659.93" width="3.5" height="12.64"/>
<line class="g" x1="1133.6" y1="659.93" x2="1133.6" y2="672.57" style="stroke-width:1.6"/>
<line class="k" x1="1131.5" y1="657.12" x2="1131.5" y2="675.38" style="stroke-width:2"/>
<path class="k" d="M1131.5,657.6 L1120.7,662.75 M1131.5,674.9 L1120.7,670.25" style="stroke-width:1.8"/>
<line class="g" x1="1131.5" y1="666.25" x2="1119.2" y2="666.25" style="stroke-width:1.8"/>
<circle class="kf" cx="1120.7" cy="662.75" r="1.5"/>
<circle class="kf" cx="1120.7" cy="670.25" r="1.5"/>
<path class="k" d="M1110.5,663.95 L1110.8,676.08 Q1111.3,688.7 1120.7,688.2 M1110.5,663.95 L1120.7,670.25" style="stroke-width:1.8"/>
<circle class="kf" cx="1142.5" cy="691.7" r="7.9"/>
<circle cx="1142.5" cy="691.7" r="5.53" style="fill:none;stroke:#0f0;stroke-width:1.6;stroke-dasharray:4.74 2.37"/>
<circle class="gf" cx="1142.5" cy="691.7" r="1.1"/>
<rect class="kf" x="1132" y="685.38" width="3.5" height="12.64"/>
<line class="g" x1="1133.6" y1="685.38" x2="1133.6" y2="698.02" style="stroke-width:1.6"/>
<line class="k" x1="1131.5" y1="682.58" x2="1131.5" y2="700.83" style="stroke-width:2"/>
<path class="k" d="M1131.5,683.05 L1120.7,688.2 M1131.5,700.35 L1120.7,695.7" style="stroke-width:1.8"/>
<line class="g" x1="1131.5" y1="691.7" x2="1119.2" y2="691.7" style="stroke-width:1.8"/>
<circle class="kf" cx="1120.7" cy="688.2" r="1.5"/>
<circle class="kf" cx="1120.7" cy="695.7" r="1.5"/>
<path class="k" d="M1106.7,689.4 L1107,701.53 Q1107.5,714.15 1120.7,713.65 M1106.7,689.4 L1120.7,695.7" style="stroke-width:1.8"/>
<circle class="kf" cx="1142.5" cy="717.15" r="7.9"/>
<circle cx="1142.5" cy="717.15" r="5.53" style="fill:none;stroke:#0f0;stroke-width:1.6;stroke-dasharray:4.74 2.37"/>
<circle class="gf" cx="1142.5" cy="717.15" r="1.1"/>
<rect class="kf" x="1132" y="710.83" width="3.5" height="12.64"/>
<line class="g" x1="1133.6" y1="710.83" x2="1133.6" y2="723.47" style="stroke-width:1.6"/>
<line class="k" x1="1131.5" y1="708.03" x2="1131.5" y2="726.27" style="stroke-width:2"/>
<path class="k" d="M1131.5,708.5 L1120.7,713.65 M1131.5,725.8 L1120.7,721.15" style="stroke-width:1.8"/>
<line class="g" x1="1131.5" y1="717.15" x2="1119.2" y2="717.15" style="stroke-width:1.8"/>
<circle class="kf" cx="1120.7" cy="713.65" r="1.5"/>
<circle class="kf" cx="1120.7" cy="721.15" r="1.5"/>
<path class="k" d="M1103,714.85 L1103.3,726.98 Q1103.8,739.6 1120.7,739.1 M1103,714.85 L1120.7,721.15" style="stroke-width:1.8"/>
<circle class="kf" cx="1142.5" cy="742.6" r="7.9"/>
<circle cx="1142.5" cy="742.6" r="5.53" style="fill:none;stroke:#0f0;stroke-width:1.6;stroke-dasharray:4.74 2.37"/>
<circle class="gf" cx="1142.5" cy="742.6" r="1.1"/>
<rect class="kf" x="1132" y="736.28" width="3.5" height="12.64"/>
<line class="g" x1="1133.6" y1="736.28" x2="1133.6" y2="748.92" style="stroke-width:1.6"/>
<line class="k" x1="1131.5" y1="733.48" x2="1131.5" y2="751.73" style="stroke-width:2"/>
<path class="k" d="M1131.5,733.95 L1120.7,739.1 M1131.5,751.25 L1120.7,746.6" style="stroke-width:1.8"/>
<line class="g" x1="1131.5" y1="742.6" x2="1119.2" y2="742.6" style="stroke-width:1.8"/>
<circle class="kf" cx="1120.7" cy="739.1" r="1.5"/>
<circle class="kf" cx="1120.7" cy="746.6" r="1.5"/>
<path class="k" d="M1096.7,725 C1097.7,737.32 1114.7,746.6 1120.7,746.6" style="stroke-width:1.8"/>
<line class="k" x1="1230" y1="584.2" x2="1386.3" y2="584.2"/>
<line class="k" x1="1230" y1="584.2" x2="1230" y2="779.2"/>
<line class="k" x1="1386.3" y1="584.2" x2="1386.3" y2="779.2"/>
<line class="k" x1="1230" y1="779.2" x2="1386.3" y2="779.2"/>
<path class="kf" d="M1242.75,592.25 Q1249,584.25 1255.25,592.25 Q1249,600.25 1242.75,592.25 Z"/>
<ellipse cx="1249" cy="592.25" rx="2.5" ry="1.6" style="fill:#0f0;stroke:#c00;stroke-width:0.5"/>
<polygon class="kf" points="1257,592.25 1261,588.25 1271.5,588.25 1275.5,592.25 1271.5,596.25 1261,596.25"/>
<polygon class="gf" points="1262,590.45 1270.5,590.45 1269,593.65 1263.5,593.65"/>
<path class="kf" d="M1242.75,624.75 Q1249,616.75 1255.25,624.75 Q1249,632.75 1242.75,624.75 Z"/>
<ellipse cx="1249" cy="624.75" rx="2.5" ry="1.6" style="fill:#0f0;stroke:#c00;stroke-width:0.5"/>
<polygon class="kf" points="1257,624.75 1261,620.75 1271.5,620.75 1275.5,624.75 1271.5,628.75 1261,628.75"/>
<polygon class="gf" points="1262,622.95 1270.5,622.95 1269,626.15 1263.5,626.15"/>
<path class="kf" d="M1242.75,657.25 Q1249,649.25 1255.25,657.25 Q1249,665.25 1242.75,657.25 Z"/>
<ellipse cx="1249" cy="657.25" rx="2.5" ry="1.6" style="fill:#0f0;stroke:#c00;stroke-width:0.5"/>
<polygon class="kf" points="1257,657.25 1261,653.25 1271.5,653.25 1275.5,657.25 1271.5,661.25 1261,661.25"/>
<polygon class="gf" points="1262,655.45 1270.5,655.45 1269,658.65 1263.5,658.65"/>
<path class="kf" d="M1242.75,689.75 Q1249,681.75 1255.25,689.75 Q1249,697.75 1242.75,689.75 Z"/>
<ellipse cx="1249" cy="689.75" rx="2.5" ry="1.6" style="fill:#0f0;stroke:#c00;stroke-width:0.5"/>
<polygon class="kf" points="1257,689.75 1261,685.75 1271.5,685.75 1275.5,689.75 1271.5,693.75 1261,693.75"/>
<polygon class="gf" points="1262,687.95 1270.5,687.95 1269,691.15 1263.5,691.15"/>
<path class="kf" d="M1242.75,722.25 Q1249,714.25 1255.25,722.25 Q1249,730.25 1242.75,722.25 Z"/>
<ellipse cx="1249" cy="722.25" rx="2.5" ry="1.6" style="fill:#0f0;stroke:#c00;stroke-width:0.5"/>
<polygon class="kf" points="1257,722.25 1261,718.25 1271.5,718.25 1275.5,722.25 1271.5,726.25 1261,726.25"/>
<polygon class="gf" points="1262,720.45 1270.5,720.45 1269,723.65 1263.5,723.65"/>
<path class="kf" d="M1242.75,754.75 Q1249,746.75 1255.25,754.75 Q1249,762.75 1242.75,754.75 Z"/>
<ellipse cx="1249" cy="754.75" rx="2.5" ry="1.6" style="fill:#0f0;stroke:#c00;stroke-width:0.5"/>
<polygon class="kf" points="1257,754.75 1261,750.75 1271.5,750.75 1275.5,754.75 1271.5,758.75 1261,758.75"/>
<polygon class="gf" points="1262,752.95 1270.5,752.95 1269,756.15 1263.5,756.15"/>
<circle class="kf" cx="1262.5" cy="608.5" r="11"/>
<circle cx="1262.5" cy="608.5" r="7.7" style="fill:none;stroke:#0f0;stroke-width:1.6;stroke-dasharray:6.6 3.3"/>
<circle class="gf" cx="1262.5" cy="608.5" r="1.1"/>
<rect class="kf" x="1270.5" y="599.7" width="3.5" height="17.6"/>
<line class="g" x1="1274" y1="599.7" x2="1274" y2="617.3" style="stroke-width:1.6"/>
<line class="k" x1="1274.5" y1="596.25" x2="1274.5" y2="620.75" style="stroke-width:2"/>
<path class="k" d="M1274.5,597.45 L1285,604.5 M1274.5,619.55 L1285,612.5" style="stroke-width:1.8"/>
<line class="g" x1="1274.5" y1="608.5" x2="1288" y2="608.5" style="stroke-width:1.8"/>
<circle class="kf" cx="1285" cy="604.5" r="1.5"/>
<circle class="kf" cx="1285" cy="612.5" r="1.5"/>
<path class="k" d="M1291.25,603.5 L1290.95,620.25 Q1290.45,637.5 1285,637 M1291.25,603.5 L1285,612.5" style="stroke-width:1.8"/>
<circle class="kf" cx="1262.5" cy="641" r="11"/>
<circle cx="1262.5" cy="641" r="7.7" style="fill:none;stroke:#0f0;stroke-width:1.6;stroke-dasharray:6.6 3.3"/>
<circle class="gf" cx="1262.5" cy="641" r="1.1"/>
<rect class="kf" x="1270.5" y="632.2" width="3.5" height="17.6"/>
<line class="g" x1="1274" y1="632.2" x2="1274" y2="649.8" style="stroke-width:1.6"/>
<line class="k" x1="1274.5" y1="628.75" x2="1274.5" y2="653.25" style="stroke-width:2"/>
<path class="k" d="M1274.5,629.95 L1285,637 M1274.5,652.05 L1285,645" style="stroke-width:1.8"/>
<line class="g" x1="1274.5" y1="641" x2="1288" y2="641" style="stroke-width:1.8"/>
<circle class="kf" cx="1285" cy="637" r="1.5"/>
<circle class="kf" cx="1285" cy="645" r="1.5"/>
<path class="k" d="M1295,636 L1294.7,652.75 Q1294.2,670 1285,669.5 M1295,636 L1285,645" style="stroke-width:1.8"/>
<circle class="kf" cx="1262.5" cy="673.5" r="11"/>
<circle cx="1262.5" cy="673.5" r="7.7" style="fill:none;stroke:#0f0;stroke-width:1.6;stroke-dasharray:6.6 3.3"/>
<circle class="gf" cx="1262.5" cy="673.5" r="1.1"/>
<rect class="kf" x="1270.5" y="664.7" width="3.5" height="17.6"/>
<line class="g" x1="1274" y1="664.7" x2="1274" y2="682.3" style="stroke-width:1.6"/>
<line class="k" x1="1274.5" y1="661.25" x2="1274.5" y2="685.75" style="stroke-width:2"/>
<path class="k" d="M1274.5,662.45 L1285,669.5 M1274.5,684.55 L1285,677.5" style="stroke-width:1.8"/>
<line class="g" x1="1274.5" y1="673.5" x2="1288" y2="673.5" style="stroke-width:1.8"/>
<circle class="kf" cx="1285" cy="669.5" r="1.5"/>
<circle class="kf" cx="1285" cy="677.5" r="1.5"/>
<path class="k" d="M1299.5,668.5 L1299.2,685.25 Q1298.7,702.5 1285,702 M1299.5,668.5 L1285,677.5" style="stroke-width:1.8"/>
<circle class="kf" cx="1262.5" cy="706" r="11"/>
<circle cx="1262.5" cy="706" r="7.7" style="fill:none;stroke:#0f0;stroke-width:1.6;stroke-dasharray:6.6 3.3"/>
<circle class="gf" cx="1262.5" cy="706" r="1.1"/>
<rect class="kf" x="1270.5" y="697.2" width="3.5" height="17.6"/>
<line class="g" x1="1274" y1="697.2" x2="1274" y2="714.8" style="stroke-width:1.6"/>
<line class="k" x1="1274.5" y1="693.75" x2="1274.5" y2="718.25" style="stroke-width:2"/>
<path class="k" d="M1274.5,694.95 L1285,702 M1274.5,717.05 L1285,710" style="stroke-width:1.8"/>
<line class="g" x1="1274.5" y1="706" x2="1288" y2="706" style="stroke-width:1.8"/>
<circle class="kf" cx="1285" cy="702" r="1.5"/>
<circle class="kf" cx="1285" cy="710" r="1.5"/>
<path class="k" d="M1302.5,701 L1302.2,717.75 Q1301.7,735 1285,734.5 M1302.5,701 L1285,710" style="stroke-width:1.8"/>
<circle class="kf" cx="1262.5" cy="738.5" r="11"/>
<circle cx="1262.5" cy="738.5" r="7.7" style="fill:none;stroke:#0f0;stroke-width:1.6;stroke-dasharray:6.6 3.3"/>
<circle class="gf" cx="1262.5" cy="738.5" r="1.1"/>
<rect class="kf" x="1270.5" y="729.7" width="3.5" height="17.6"/>
<line class="g" x1="1274" y1="729.7" x2="1274" y2="747.3" style="stroke-width:1.6"/>
<line class="k" x1="1274.5" y1="726.25" x2="1274.5" y2="750.75" style="stroke-width:2"/>
<path class="k" d="M1274.5,727.45 L1285,734.5 M1274.5,749.55 L1285,742.5" style="stroke-width:1.8"/>
<line class="g" x1="1274.5" y1="738.5" x2="1288" y2="738.5" style="stroke-width:1.8"/>
<circle class="kf" cx="1285" cy="734.5" r="1.5"/>
<circle class="kf" cx="1285" cy="742.5" r="1.5"/>
<path class="k" d="M1308.15,723.5 C1307.15,734 1291,742.5 1285,742.5" style="stroke-width:1.8"/>
<path class="kf" d="M1361.05,592.25 Q1367.3,584.25 1373.55,592.25 Q1367.3,600.25 1361.05,592.25 Z"/>
<ellipse cx="1367.3" cy="592.25" rx="2.5" ry="1.6" style="fill:#0f0;stroke:#c00;stroke-width:0.5"/>
<polygon class="kf" points="1359.3,592.25 1355.3,588.25 1344.8,588.25 1340.8,592.25 1344.8,596.25 1355.3,596.25"/>
<polygon class="gf" points="1354.3,590.45 1345.8,590.45 1347.3,593.65 1352.8,593.65"/>
<path class="kf" d="M1361.05,624.75 Q1367.3,616.75 1373.55,624.75 Q1367.3,632.75 1361.05,624.75 Z"/>
<ellipse cx="1367.3" cy="624.75" rx="2.5" ry="1.6" style="fill:#0f0;stroke:#c00;stroke-width:0.5"/>
<polygon class="kf" points="1359.3,624.75 1355.3,620.75 1344.8,620.75 1340.8,624.75 1344.8,628.75 1355.3,628.75"/>
<polygon class="gf" points="1354.3,622.95 1345.8,622.95 1347.3,626.15 1352.8,626.15"/>
<path class="kf" d="M1361.05,657.25 Q1367.3,649.25 1373.55,657.25 Q1367.3,665.25 1361.05,657.25 Z"/>
<ellipse cx="1367.3" cy="657.25" rx="2.5" ry="1.6" style="fill:#0f0;stroke:#c00;stroke-width:0.5"/>
<polygon class="kf" points="1359.3,657.25 1355.3,653.25 1344.8,653.25 1340.8,657.25 1344.8,661.25 1355.3,661.25"/>
<polygon class="gf" points="1354.3,655.45 1345.8,655.45 1347.3,658.65 1352.8,658.65"/>
<path class="kf" d="M1361.05,689.75 Q1367.3,681.75 1373.55,689.75 Q1367.3,697.75 1361.05,689.75 Z"/>
<ellipse cx="1367.3" cy="689.75" rx="2.5" ry="1.6" style="fill:#0f0;stroke:#c00;stroke-width:0.5"/>
<polygon class="kf" points="1359.3,689.75 1355.3,685.75 1344.8,685.75 1340.8,689.75 1344.8,693.75 1355.3,693.75"/>
<polygon class="gf" points="1354.3,687.95 1345.8,687.95 1347.3,691.15 1352.8,691.15"/>
<path class="kf" d="M1361.05,722.25 Q1367.3,714.25 1373.55,722.25 Q1367.3,730.25 1361.05,722.25 Z"/>
<ellipse cx="1367.3" cy="722.25" rx="2.5" ry="1.6" style="fill:#0f0;stroke:#c00;stroke-width:0.5"/>
<polygon class="kf" points="1359.3,722.25 1355.3,718.25 1344.8,718.25 1340.8,722.25 1344.8,726.25 1355.3,726.25"/>
<polygon class="gf" points="1354.3,720.45 1345.8,720.45 1347.3,723.65 1352.8,723.65"/>
<path class="kf" d="M1361.05,754.75 Q1367.3,746.75 1373.55,754.75 Q1367.3,762.75 1361.05,754.75 Z"/>
<ellipse cx="1367.3" cy="754.75" rx="2.5" ry="1.6" style="fill:#0f0;stroke:#c00;stroke-width:0.5"/>
<polygon class="kf" points="1359.3,754.75 1355.3,750.75 1344.8,750.75 1340.8,754.75 1344.8,758.75 1355.3,758.75"/>
<polygon class="gf" points="1354.3,752.95 1345.8,752.95 1347.3,756.15 1352.8,756.15"/>
<circle class="kf" cx="1353.8" cy="608.5" r="11"/>
<circle cx="1353.8" cy="608.5" r="7.7" style="fill:none;stroke:#0f0;stroke-width:1.6;stroke-dasharray:6.6 3.3"/>
<circle class="gf" cx="1353.8" cy="608.5" r="1.1"/>
<rect class="kf" x="1342.3" y="599.7" width="3.5" height="17.6"/>
<line class="g" x1="1342.3" y1="599.7" x2="1342.3" y2="617.3" style="stroke-width:1.6"/>
<line class="k" x1="1341.8" y1="596.25" x2="1341.8" y2="620.75" style="stroke-width:2"/>
<path class="k" d="M1341.8,597.45 L1331.3,604.5 M1341.8,619.55 L1331.3,612.5" style="stroke-width:1.8"/>
<line class="g" x1="1341.8" y1="608.5" x2="1328.3" y2="608.5" style="stroke-width:1.8"/>
<circle class="kf" cx="1331.3" cy="604.5" r="1.5"/>
<circle class="kf" cx="1331.3" cy="612.5" r="1.5"/>
<path class="k" d="M1325.05,603.5 L1325.35,620.25 Q1325.85,637.5 1331.3,637 M1325.05,603.5 L1331.3,612.5" style="stroke-width:1.8"/>
<circle class="kf" cx="1353.8" cy="641" r="11"/>
<circle cx="1353.8" cy="641" r="7.7" style="fill:none;stroke:#0f0;stroke-width:1.6;stroke-dasharray:6.6 3.3"/>
<circle class="gf" cx="1353.8" cy="641" r="1.1"/>
<rect class="kf" x="1342.3" y="632.2" width="3.5" height="17.6"/>
<line class="g" x1="1342.3" y1="632.2" x2="1342.3" y2="649.8" style="stroke-width:1.6"/>
<line class="k" x1="1341.8" y1="628.75" x2="1341.8" y2="653.25" style="stroke-width:2"/>
<path class="k" d="M1341.8,629.95 L1331.3,637 M1341.8,652.05 L1331.3,645" style="stroke-width:1.8"/>
<line class="g" x1="1341.8" y1="641" x2="1328.3" y2="641" style="stroke-width:1.8"/>
<circle class="kf" cx="1331.3" cy="637" r="1.5"/>
<circle class="kf" cx="1331.3" cy="645" r="1.5"/>
<path class="k" d="M1321.3,636 L1321.6,652.75 Q1322.1,670 1331.3,669.5 M1321.3,636 L1331.3,645" style="stroke-width:1.8"/>
<circle class="kf" cx="1353.8" cy="673.5" r="11"/>
<circle cx="1353.8" cy="673.5" r="7.7" style="fill:none;stroke:#0f0;stroke-width:1.6;stroke-dasharray:6.6 3.3"/>
<circle class="gf" cx="1353.8" cy="673.5" r="1.1"/>
<rect class="kf" x="1342.3" y="664.7" width="3.5" height="17.6"/>
<line class="g" x1="1342.3" y1="664.7" x2="1342.3" y2="682.3" style="stroke-width:1.6"/>
<line class="k" x1="1341.8" y1="661.25" x2="1341.8" y2="685.75" style="stroke-width:2"/>
<path class="k" d="M1341.8,662.45 L1331.3,669.5 M1341.8,684.55 L1331.3,677.5" style="stroke-width:1.8"/>
<line class="g" x1="1341.8" y1="673.5" x2="1328.3" y2="673.5" style="stroke-width:1.8"/>
<circle class="kf" cx="1331.3" cy="669.5" r="1.5"/>
<circle class="kf" cx="1331.3" cy="677.5" r="1.5"/>
<path class="k" d="M1316.8,668.5 L1317.1,685.25 Q1317.6,702.5 1331.3,702 M1316.8,668.5 L1331.3,677.5" style="stroke-width:1.8"/>
<circle class="kf" cx="1353.8" cy="706" r="11"/>
<circle cx="1353.8" cy="706" r="7.7" style="fill:none;stroke:#0f0;stroke-width:1.6;stroke-dasharray:6.6 3.3"/>
<circle class="gf" cx="1353.8" cy="706" r="1.1"/>
<rect class="kf" x="1342.3" y="697.2" width="3.5" height="17.6"/>
<line class="g" x1="1342.3" y1="697.2" x2="1342.3" y2="714.8" style="stroke-width:1.6"/>
<line class="k" x1="1341.8" y1="693.75" x2="1341.8" y2="718.25" style="stroke-width:2"/>
<path class="k" d="M1341.8,694.95 L1331.3,702 M1341.8,717.05 L1331.3,710" style="stroke-width:1.8"/>
<line class="g" x1="1341.8" y1="706" x2="1328.3" y2="706" style="stroke-width:1.8"/>
<circle class="kf" cx="1331.3" cy="702" r="1.5"/>
<circle class="kf" cx="1331.3" cy="710" r="1.5"/>
<path class="k" d="M1313.8,701 L1314.1,717.75 Q1314.6,735 1331.3,734.5 M1313.8,701 L1331.3,710" style="stroke-width:1.8"/>
<circle class="kf" cx="1353.8" cy="738.5" r="11"/>
<circle cx="1353.8" cy="738.5" r="7.7" style="fill:none;stroke:#0f0;stroke-width:1.6;stroke-dasharray:6.6 3.3"/>
<circle class="gf" cx="1353.8" cy="738.5" r="1.1"/>
<rect class="kf" x="1342.3" y="729.7" width="3.5" height="17.6"/>
<line class="g" x1="1342.3" y1="729.7" x2="1342.3" y2="747.3" style="stroke-width:1.6"/>
<line class="k" x1="1341.8" y1="726.25" x2="1341.8" y2="750.75" style="stroke-width:2"/>
<path class="k" d="M1341.8,727.45 L1331.3,734.5 M1341.8,749.55 L1331.3,742.5" style="stroke-width:1.8"/>
<line class="g" x1="1341.8" y1="738.5" x2="1328.3" y2="738.5" style="stroke-width:1.8"/>
<circle class="kf" cx="1331.3" cy="734.5" r="1.5"/>
<circle class="kf" cx="1331.3" cy="742.5" r="1.5"/>
<path class="k" d="M1308.15,723.5 C1309.15,734 1325.3,742.5 1331.3,742.5" style="stroke-width:1.8"/>
<circle class="k" cx="1096.8" cy="557.5" r="18.2"/>
<line class="k" x1="1078.9" y1="557.5" x2="1078.9" y2="584"/>
<line class="k" x1="1115.1" y1="557.5" x2="1115.1" y2="584"/>
<line class="k" x1="1076.5" y1="583.6" x2="1117.4" y2="583.6" style="stroke-width:2.8"/>
<line class="k" x1="1079" y1="587.3" x2="1115" y2="587.3" style="stroke-width:1.4"/>
<line class="k" x1="1078.9" y1="584.2" x2="1074.9" y2="630"/>
<line class="k" x1="1115.1" y1="584.2" x2="1118.6" y2="630"/>
<line class="k" x1="1071.9" y1="630.2" x2="1121.6" y2="630.2" style="stroke-width:3"/>
<path class="k" d="M1074.9,630 L1073,637.4 M1118.6,630 L1119.7,637.4" style="stroke-width:1.4"/>
<circle class="bf" cx="1035.7" cy="598.3" r="7.6"/>
<line class="g" x1="1035.7" y1="591.84" x2="1035.7" y2="595.64" style="stroke-width:1.2"/>
<line class="g" x1="1035.7" y1="600.96" x2="1035.7" y2="604.76" style="stroke-width:1.2"/>
<line class="g" x1="1029.62" y1="598.3" x2="1031.52" y2="598.3" style="stroke-width:1"/>
<line class="g" x1="1039.88" y1="598.3" x2="1041.78" y2="598.3" style="stroke-width:1"/>
<circle class="gf" cx="1035.7" cy="598.3" r="0.6"/>
<circle class="bf" cx="1050.4" cy="598.3" r="7.6"/>
<line class="g" x1="1050.4" y1="591.84" x2="1050.4" y2="595.64" style="stroke-width:1.2"/>
<line class="g" x1="1050.4" y1="600.96" x2="1050.4" y2="604.76" style="stroke-width:1.2"/>
<line class="g" x1="1044.32" y1="598.3" x2="1046.22" y2="598.3" style="stroke-width:1"/>
<line class="g" x1="1054.58" y1="598.3" x2="1056.48" y2="598.3" style="stroke-width:1"/>
<circle class="gf" cx="1050.4" cy="598.3" r="0.6"/>
<rect class="kf" x="1056" y="593" width="8" height="10.5"/>
<rect x="1062.7" y="595.1" width="12.8" height="7.4" style="fill:#0f0;stroke:#000;stroke-width:1.2"/>
<circle class="bf" cx="1047.9" cy="616.7" r="6.2"/>
<circle class="w" cx="1047.9" cy="616.7" r="4.46" style="stroke-width:0.6"/>
<line class="g" x1="1045.73" y1="616.7" x2="1050.07" y2="616.7" style="stroke-width:1.3"/>
<circle class="bf" cx="1156.6" cy="616.4" r="6.2"/>
<circle class="w" cx="1156.6" cy="616.4" r="4.46" style="stroke-width:0.6"/>
<line class="g" x1="1154.43" y1="616.4" x2="1158.77" y2="616.4" style="stroke-width:1.3"/>
<circle class="k" cx="1027" cy="590" r="1.8" style="stroke-width:1.2"/>
<circle class="kf" cx="1065" cy="591.7" r="1.8"/>
<circle class="kf" cx="1129" cy="591.9" r="2"/>
<circle class="k" cx="1166.9" cy="589.5" r="1.8" style="stroke-width:1.2"/>
<path class="r" d="M1026.8,611.75 L1022.3,611.75 L1022.3,622.25 L1026.8,622.25" style="stroke-width:2.6"/>
<path class="r" d="M1166.3,611.75 L1170.8,611.75 L1170.8,622.25 L1166.3,622.25" style="stroke-width:2.6"/>
<circle class="bf" cx="1047.75" cy="766.25" r="6"/>
<circle class="w" cx="1047.75" cy="766.25" r="4.32" style="stroke-width:0.6"/>
<line class="g" x1="1045.65" y1="766.25" x2="1049.85" y2="766.25" style="stroke-width:1.3"/>
<circle class="bf" cx="1084.25" cy="766.25" r="6"/>
<circle class="w" cx="1084.25" cy="766.25" r="4.32" style="stroke-width:0.6"/>
<line class="g" x1="1082.15" y1="766.25" x2="1086.35" y2="766.25" style="stroke-width:1.3"/>
<circle class="bf" cx="1145.4" cy="766.25" r="6"/>
<circle class="w" cx="1145.4" cy="766.25" r="4.32" style="stroke-width:0.6"/>
<line class="g" x1="1143.3" y1="766.25" x2="1147.5" y2="766.25" style="stroke-width:1.3"/>
<path class="kf" d="M1059.5,770 L1059.5,764 Q1059.5,756.5 1066,756.5 Q1072.5,756.5 1072.5,764 L1072.5,770 Z"/>
<circle class="gf" cx="1066" cy="763" r="1"/>
<rect class="kf" x="1059.5" y="770" width="13.5" height="7.5"/>
<line class="g" x1="1066" y1="770" x2="1066" y2="779" style="stroke-width:1.5"/>
<line class="g" x1="1061" y1="773.5" x2="1071" y2="773.5" style="stroke-width:1.5"/>
<circle class="kf" cx="1074.5" cy="768.5" r="1.6"/>
<rect class="k" x="1092.75" y="759.5" width="43.35" height="14.5"/>
<line class="r" x1="1025.25" y1="768.5" x2="1025.25" y2="778.2" style="stroke-width:2.8"/>
<line class="r" x1="1021.25" y1="768.5" x2="1029.25" y2="768.5" style="stroke-width:2.8"/>
<line class="r" x1="1021.25" y1="778.2" x2="1029.25" y2="778.2" style="stroke-width:2.8"/>
<rect class="k" x="1030" y="769.5" width="6.75" height="8" style="stroke-width:1.6"/>
<line class="r" x1="1168" y1="768.5" x2="1168" y2="778.2" style="stroke-width:2.8"/>
<line class="r" x1="1164" y1="768.5" x2="1172" y2="768.5" style="stroke-width:2.8"/>
<line class="r" x1="1164" y1="778.2" x2="1172" y2="778.2" style="stroke-width:2.8"/>
<rect class="k" x="1156.5" y="769.5" width="6.7" height="8" style="stroke-width:1.6"/>
<polyline class="k" points="1157.5,584.2 1157.5,544.4 1230,544.4"/>
<line class="k" x1="1157.5" y1="558.8" x2="1230" y2="558.8"/>
<line class="k" x1="1171.8" y1="558.8" x2="1171.8" y2="584.2"/>
<line class="k" x1="1150" y1="584.2" x2="1157.5" y2="584.2"/>
<path class="r" d="M1165.8,547.5 L1161.8,547.5 L1161.8,556.5 L1165.8,556.5" style="stroke-width:2.6"/>
<line class="k" x1="1171.8" y1="566.75" x2="1180.8" y2="566.75" style="stroke-width:1.5"/>
<line class="k" x1="1171.8" y1="579.9" x2="1180.8" y2="579.9" style="stroke-width:1.5"/>
<circle class="bf" cx="1180.8" cy="573.5" r="6.3"/>
<circle cx="1180.8" cy="573.5" r="4.72" style="fill:none;stroke:#2a7a2a;stroke-width:0.6;stroke-dasharray:1.5 1.5"/>
<line class="g" x1="1179.41" y1="573.5" x2="1182.19" y2="573.5" style="stroke-width:1.3"/>
<line class="k" x1="1230" y1="544.5" x2="1230" y2="584.2"/>
<line class="k" x1="1386.3" y1="544.5" x2="1386.3" y2="584.2"/>
<circle class="k" cx="1166.8" cy="589.5" r="1.8" style="stroke-width:1.2"/>
<circle class="k" cx="1308" cy="536.3" r="18"/>
<line class="k" x1="1290" y1="536.3" x2="1290" y2="561.3"/>
<line class="k" x1="1326.3" y1="536.3" x2="1326.3" y2="561.3"/>
<line class="k" x1="1286" y1="561.4" x2="1329.5" y2="561.4" style="stroke-width:2.6"/>
<line class="k" x1="1290" y1="565" x2="1326.3" y2="565" style="stroke-width:1.4"/>
<line class="k" x1="1290.6" y1="565" x2="1287.5" y2="597.6"/>
<line class="k" x1="1326" y1="565" x2="1329.2" y2="597.6"/>
<line class="k" x1="1284.2" y1="597.6" x2="1331.9" y2="597.6" style="stroke-width:3"/>
<path class="k" d="M1287.5,597.6 L1287.8,603 Q1287,606 1285,605.5 M1329.2,597.6 L1329,603 Q1330,606 1331.5,605.5" style="stroke-width:1.4"/>
<line class="k" x1="1230" y1="544.5" x2="1277" y2="544.5"/>
<line class="k" x1="1277" y1="544.5" x2="1277" y2="584.2"/>
<line class="k" x1="1339.5" y1="544.5" x2="1386.3" y2="544.5"/>
<line class="k" x1="1339.5" y1="544.5" x2="1339.5" y2="584.2"/>
<path class="r" d="M1235.1,544.4 L1230.8,544.4 L1230.8,553.4 L1235.1,553.4" style="stroke-width:2.6"/>
<path class="r" d="M1235.1,575.1 L1230.8,575.1 L1230.8,585.1 L1235.1,585.1" style="stroke-width:2.6"/>
<path class="r" d="M1271.9,544.4 L1276.2,544.4 L1276.2,553.4 L1271.9,553.4" style="stroke-width:2.6"/>
<path class="r" d="M1271.9,575.1 L1276.2,575.1 L1276.2,585.1 L1271.9,585.1" style="stroke-width:2.6"/>
<path class="r" d="M1344.6,544.4 L1340.3,544.4 L1340.3,553.4 L1344.6,553.4" style="stroke-width:2.6"/>
<path class="r" d="M1344.6,575.1 L1340.3,575.1 L1340.3,585.1 L1344.6,585.1" style="stroke-width:2.6"/>
<path class="r" d="M1381.2,544.4 L1385.5,544.4 L1385.5,553.4 L1381.2,553.4" style="stroke-width:2.6"/>
<path class="r" d="M1381.2,575.1 L1385.5,575.1 L1385.5,585.1 L1381.2,585.1" style="stroke-width:2.6"/>
<path class="r" d="M1235.1,586.8 L1230.8,586.8 L1230.8,596.8 L1235.1,596.8" style="stroke-width:2.6"/>
<path class="r" d="M1381.2,586.8 L1385.5,586.8 L1385.5,596.8 L1381.2,596.8" style="stroke-width:2.6"/>
<circle class="bf" cx="1243.5" cy="559" r="7.6"/>
<line class="g" x1="1243.5" y1="552.54" x2="1243.5" y2="556.34" style="stroke-width:1.2"/>
<line class="g" x1="1243.5" y1="561.66" x2="1243.5" y2="565.46" style="stroke-width:1.2"/>
<line class="g" x1="1237.42" y1="559" x2="1239.32" y2="559" style="stroke-width:1"/>
<line class="g" x1="1247.68" y1="559" x2="1249.58" y2="559" style="stroke-width:1"/>
<circle class="gf" cx="1243.5" cy="559" r="0.6"/>
<circle class="bf" cx="1258.5" cy="559" r="7.6"/>
<line class="g" x1="1258.5" y1="552.54" x2="1258.5" y2="556.34" style="stroke-width:1.2"/>
<line class="g" x1="1258.5" y1="561.66" x2="1258.5" y2="565.46" style="stroke-width:1.2"/>
<line class="g" x1="1252.42" y1="559" x2="1254.32" y2="559" style="stroke-width:1"/>
<line class="g" x1="1262.68" y1="559" x2="1264.58" y2="559" style="stroke-width:1"/>
<circle class="gf" cx="1258.5" cy="559" r="0.6"/>
<rect class="kf" x="1264" y="554" width="8" height="10"/>
<rect x="1270.5" y="555.5" width="13" height="7.2" style="fill:#0f0;stroke:#000;stroke-width:1.2"/>
<circle class="bf" cx="1357.5" cy="558.8" r="7.6"/>
<line class="g" x1="1357.5" y1="552.34" x2="1357.5" y2="556.14" style="stroke-width:1.2"/>
<line class="g" x1="1357.5" y1="561.46" x2="1357.5" y2="565.26" style="stroke-width:1.2"/>
<line class="g" x1="1351.42" y1="558.8" x2="1353.32" y2="558.8" style="stroke-width:1"/>
<line class="g" x1="1361.68" y1="558.8" x2="1363.58" y2="558.8" style="stroke-width:1"/>
<circle class="gf" cx="1357.5" cy="558.8" r="0.6"/>
<circle class="bf" cx="1372.5" cy="558.8" r="7.6"/>
<line class="g" x1="1372.5" y1="552.34" x2="1372.5" y2="556.14" style="stroke-width:1.2"/>
<line class="g" x1="1372.5" y1="561.46" x2="1372.5" y2="565.26" style="stroke-width:1.2"/>
<line class="g" x1="1366.42" y1="558.8" x2="1368.32" y2="558.8" style="stroke-width:1"/>
<line class="g" x1="1376.68" y1="558.8" x2="1378.58" y2="558.8" style="stroke-width:1"/>
<circle class="gf" cx="1372.5" cy="558.8" r="0.6"/>
<rect class="kf" x="1343" y="554" width="8" height="10"/>
<rect x="1333" y="555.5" width="13" height="7.2" style="fill:#0f0;stroke:#000;stroke-width:1.2"/>
<circle class="bf" cx="1256.2" cy="576.5" r="6"/>
<circle class="w" cx="1256.2" cy="576.5" r="4.32" style="stroke-width:0.6"/>
<line class="g" x1="1254.1" y1="576.5" x2="1258.3" y2="576.5" style="stroke-width:1.3"/>
<circle class="bf" cx="1360" cy="576.5" r="6"/>
<circle class="w" cx="1360" cy="576.5" r="4.32" style="stroke-width:0.6"/>
<line class="g" x1="1357.9" y1="576.5" x2="1362.1" y2="576.5" style="stroke-width:1.3"/>
<circle class="bf" cx="1256.3" cy="766.3" r="6"/>
<circle class="w" cx="1256.3" cy="766.3" r="4.32" style="stroke-width:0.6"/>
<line class="g" x1="1254.2" y1="766.3" x2="1258.4" y2="766.3" style="stroke-width:1.3"/>
<circle class="bf" cx="1292" cy="766.3" r="6"/>
<circle class="w" cx="1292" cy="766.3" r="4.32" style="stroke-width:0.6"/>
<line class="g" x1="1289.9" y1="766.3" x2="1294.1" y2="766.3" style="stroke-width:1.3"/>
<circle class="bf" cx="1359.5" cy="766.3" r="6"/>
<circle class="w" cx="1359.5" cy="766.3" r="4.32" style="stroke-width:0.6"/>
<line class="g" x1="1357.4" y1="766.3" x2="1361.6" y2="766.3" style="stroke-width:1.3"/>
<path class="kf" d="M1267,769 L1267,763 Q1267,755.5 1273.5,755.5 Q1280,755.5 1280,763 L1280,769 Z"/>
<circle class="gf" cx="1273.5" cy="762" r="1"/>
<rect class="kf" x="1266.5" y="769" width="13.5" height="8"/>
<line class="g" x1="1273" y1="769" x2="1273" y2="778" style="stroke-width:1.5"/>
<line class="g" x1="1268" y1="772.5" x2="1278" y2="772.5" style="stroke-width:1.5"/>
<circle class="kf" cx="1281" cy="768" r="1.6"/>
<rect class="k" x="1301.3" y="758.8" width="50" height="15"/>
<line class="r" x1="1233.8" y1="769" x2="1233.8" y2="778.2" style="stroke-width:2.8"/>
<line class="r" x1="1229.8" y1="769" x2="1237.8" y2="769" style="stroke-width:2.8"/>
<line class="r" x1="1229.8" y1="778.2" x2="1237.8" y2="778.2" style="stroke-width:2.8"/>
<rect class="k" x="1238.5" y="770" width="6.5" height="7.5" style="stroke-width:1.6"/>
<line class="r" x1="1382.5" y1="769" x2="1382.5" y2="778.2" style="stroke-width:2.8"/>
<line class="r" x1="1378.5" y1="769" x2="1386.5" y2="769" style="stroke-width:2.8"/>
<line class="r" x1="1378.5" y1="778.2" x2="1386.5" y2="778.2" style="stroke-width:2.8"/>
<rect class="k" x="1372" y="770" width="6.5" height="7.5" style="stroke-width:1.6"/>
<line class="r" x1="1167.5" y1="769" x2="1167.5" y2="778.2" style="stroke-width:2.8"/>
<line class="r" x1="1163.5" y1="769" x2="1171.5" y2="769" style="stroke-width:2.8"/>
<line class="r" x1="1163.5" y1="778.2" x2="1171.5" y2="778.2" style="stroke-width:2.8"/>
<rect class="k" x="1157" y="770" width="6.5" height="7.5" style="stroke-width:1.6"/>
<path class="m" d="M1010,605.4 L1033.8,606.2 M1055.4,604.6 L1044.2,612.9"/>
<path class="m" d="M1044.2,612.9 C1043.92,613.92 1042.18,616.47 1042.5,619 C1042.82,621.53 1046.03,624.44 1046.1,628.07 C1046.17,631.71 1042.9,636.56 1042.9,640.8 C1042.9,645.04 1046.1,649.28 1046.1,653.52 C1046.1,657.77 1042.9,662.01 1042.9,666.25 C1042.9,670.49 1046.1,674.73 1046.1,678.98 C1046.1,683.22 1042.9,687.46 1042.9,691.7 C1042.9,695.94 1046.1,700.18 1046.1,704.42 C1046.1,708.67 1042.9,712.91 1042.9,717.15 C1042.9,721.39 1046.1,725.63 1046.1,729.88 C1046.1,734.12 1042.9,738.36 1042.9,742.6 C1042.9,746.84 1046.17,751.51 1046.1,755.33 C1046.03,759.14 1042.85,763.22 1042.5,765.5 C1042.15,767.78 1043.75,768.42 1044,769"/>
<path class="m" d="M1044,769 L1052,770.5 L1063.2,757.2 L1071,757.2 L1080,770 L1083.5,772 L1145.4,772 L1149,769"/>
<path class="m" d="M1149,769 C1149.27,768.42 1150.88,767.78 1150.6,765.5 C1150.32,763.22 1147.32,759.14 1147.3,755.33 C1147.28,751.51 1150.5,746.84 1150.5,742.6 C1150.5,738.36 1147.3,734.12 1147.3,729.88 C1147.3,725.63 1150.5,721.39 1150.5,717.15 C1150.5,712.91 1147.3,708.67 1147.3,704.42 C1147.3,700.18 1150.5,695.94 1150.5,691.7 C1150.5,687.46 1147.3,683.22 1147.3,678.98 C1147.3,674.73 1150.5,670.49 1150.5,666.25 C1150.5,662.01 1147.3,657.77 1147.3,653.52 C1147.3,649.28 1150.5,645.04 1150.5,640.8 C1150.5,636.56 1147.33,630.97 1147.3,628.07 C1147.27,625.17 1149.45,626.13 1150.3,623.4 C1151.15,620.67 1152.05,613.65 1152.4,611.7"/>
<path class="m" d="M1152.4,611.7 L1171.1,577.9 M1185,566.5 L1242.5,566.3 M1260,568 L1251.3,576.3"/>
<path class="m" d="M1251.3,576.3 C1251.58,577.42 1252.55,580.34 1253,583 C1253.45,585.66 1254.28,588 1254,592.25 C1253.72,596.5 1251.3,603.08 1251.3,608.5 C1251.3,613.92 1254,619.33 1254,624.75 C1254,630.17 1251.3,635.58 1251.3,641 C1251.3,646.42 1254,651.83 1254,657.25 C1254,662.67 1251.3,668.08 1251.3,673.5 C1251.3,678.92 1254,684.33 1254,689.75 C1254,695.17 1251.3,700.58 1251.3,706 C1251.3,711.42 1254,716.83 1254,722.25 C1254,727.67 1251.3,733.08 1251.3,738.5 C1251.3,743.92 1254.05,750.33 1254,754.75 C1253.95,759.17 1251,762.54 1251,765 C1251,767.46 1253.5,768.75 1254,769.5"/>
<path class="m" d="M1254,769.5 L1260,770 L1272.5,757.5 L1278,757.5 L1291.3,771.3 L1361.3,771.3 L1364,768"/>
<path class="m" d="M1364,768 C1364.25,767 1365.78,764.21 1365.5,762 C1365.22,759.79 1362.38,758.67 1362.3,754.75 C1362.22,750.83 1365,743.92 1365,738.5 C1365,733.08 1362.3,727.67 1362.3,722.25 C1362.3,716.83 1365,711.42 1365,706 C1365,700.58 1362.3,695.17 1362.3,689.75 C1362.3,684.33 1365,678.92 1365,673.5 C1365,668.08 1362.3,662.67 1362.3,657.25 C1362.3,651.83 1365,646.42 1365,641 C1365,635.58 1362.3,630.17 1362.3,624.75 C1362.3,619.33 1365,613.92 1365,608.5 C1365,603.08 1362.3,596.5 1362.3,592.25 C1362.3,588 1364.55,585.46 1365,583 C1365.45,580.54 1365,578.42 1365,577.5"/>
<path class="m" d="M1365,577.5 L1352.5,565 M1370,567 L1408,571"/>
<line class="k" x1="1386.3" y1="569.2" x2="1733.8" y2="569.2"/>
<line class="k" x1="1386.3" y1="583.9" x2="1445.2" y2="583.9"/>
<line class="k" x1="1445.2" y1="598.6" x2="1733.8" y2="598.6"/>
<line class="k" x1="1733.8" y1="569.2" x2="1733.8" y2="598.6"/>
<line class="k" x1="1445.2" y1="569.2" x2="1445.2" y2="779.4"/>
<line class="k" x1="1495.9" y1="598.6" x2="1495.9" y2="779.4"/>
<line class="k" x1="1445.2" y1="779.4" x2="1495.9" y2="779.4"/>
<circle class="kf" cx="1463.7" cy="623.2" r="7.4"/>
<line class="g" x1="1461.2" y1="623.2" x2="1466.2" y2="623.2" style="stroke-width:1.3"/>
<circle class="kf" cx="1477.4" cy="634.5" r="7.4"/>
<line class="g" x1="1474.9" y1="634.5" x2="1479.9" y2="634.5" style="stroke-width:1.3"/>
<circle class="kf" cx="1463.7" cy="645.3" r="7.4"/>
<line class="g" x1="1461.2" y1="645.3" x2="1466.2" y2="645.3" style="stroke-width:1.3"/>
<circle class="kf" cx="1463.7" cy="695.7" r="7.4"/>
<line class="g" x1="1461.2" y1="695.7" x2="1466.2" y2="695.7" style="stroke-width:1.3"/>
<circle class="kf" cx="1477.4" cy="706.5" r="7.4"/>
<line class="g" x1="1474.9" y1="706.5" x2="1479.9" y2="706.5" style="stroke-width:1.3"/>
<circle class="kf" cx="1463.7" cy="717.7" r="7.4"/>
<line class="g" x1="1461.2" y1="717.7" x2="1466.2" y2="717.7" style="stroke-width:1.3"/>
<rect class="k" x="1456" y="655.4" width="29.3" height="15"/>
<line class="k" x1="1470.6" y1="655.4" x2="1470.6" y2="670.4"/>
<rect class="k" x="1456" y="727.4" width="29.3" height="15"/>
<line class="k" x1="1470.6" y1="727.4" x2="1470.6" y2="742.4"/>
<circle class="bf" cx="1475.6" cy="605.9" r="6"/>
<circle class="w" cx="1475.6" cy="605.9" r="4.32" style="stroke-width:0.6"/>
<line class="g" x1="1473.5" y1="605.9" x2="1477.7" y2="605.9" style="stroke-width:1.3"/>
<circle class="bf" cx="1465.5" cy="750.3" r="6"/>
<circle class="w" cx="1465.5" cy="750.3" r="4.32" style="stroke-width:0.6"/>
<line class="g" x1="1463.4" y1="750.3" x2="1467.6" y2="750.3" style="stroke-width:1.3"/>
<path class="bf" d="M1445.2,661.3 L1440,661.3 A6.2,6.2 0 1,0 1440,673.7 L1445.2,673.7 Z"/>
<circle class="w" cx="1439.2" cy="667.5" r="4.3" style="stroke-width:0.5"/>
<line class="g" x1="1438" y1="667.5" x2="1441" y2="667.5" style="stroke-width:1.2"/>
<path class="bf" d="M1445.2,743 L1440,743 A7,7 0 1,0 1440,757 L1445.2,757 Z"/>
<line class="g" x1="1437.5" y1="750.1" x2="1441" y2="750.1" style="stroke-width:1.2"/>
<circle class="bf" cx="1439" cy="591.3" r="6.3"/>
<circle class="w" cx="1439" cy="591.3" r="4.54" style="stroke-width:0.6"/>
<line class="g" x1="1436.8" y1="591.3" x2="1441.2" y2="591.3" style="stroke-width:1.3"/>
<circle class="bf" cx="1407.4" cy="577.1" r="6.8"/>
<circle cx="1407.4" cy="577.1" r="5.1" style="fill:none;stroke:#2a7a2a;stroke-width:0.6;stroke-dasharray:1.5 1.5"/>
<line class="g" x1="1405.9" y1="577.1" x2="1408.9" y2="577.1" style="stroke-width:1.3"/>
<path class="r" d="M1450.5,612.7 L1446,612.7 L1446,622.7 L1450.5,622.7" style="stroke-width:2.6"/>
<path class="r" d="M1491.1,612.7 L1495.6,612.7 L1495.6,622.7 L1491.1,622.7" style="stroke-width:2.6"/>
<path class="r" d="M1450.5,646.6 L1446,646.6 L1446,656.6 L1450.5,656.6" style="stroke-width:2.6"/>
<path class="r" d="M1491.1,646.6 L1495.6,646.6 L1495.6,656.6 L1491.1,656.6" style="stroke-width:2.6"/>
<path class="r" d="M1450.5,684.6 L1446,684.6 L1446,694.6 L1450.5,694.6" style="stroke-width:2.6"/>
<path class="r" d="M1491.1,684.6 L1495.6,684.6 L1495.6,694.6 L1491.1,694.6" style="stroke-width:2.6"/>
<path class="r" d="M1450.5,718.4 L1446,718.4 L1446,728.4 L1450.5,728.4" style="stroke-width:2.6"/>
<path class="r" d="M1491.1,718.4 L1495.6,718.4 L1495.6,728.4 L1491.1,728.4" style="stroke-width:2.6"/>
<path class="r" d="M1450.5,769 L1446,769 L1446,779 L1450.5,779" style="stroke-width:2.6"/>
<path class="r" d="M1491.1,769 L1495.6,769 L1495.6,779 L1491.1,779" style="stroke-width:2.6"/>
<path class="m" d="M1408,571 L1444,587.6 L1433.4,667.5 L1433.4,747 L1446.2,756.1 L1466.1,756.1 L1470.7,750.3 L1470.7,609.7 L1472.2,601.9 L1492.5,559.8 L1501.5,561.4 L1524,596.2 L1625.5,581.6 L1706.7,584.2"/>
<path class="m" d="M1524,596.2 L1571.5,622.1 L1578.8,645 L1591.1,680 M1598.1,677.1 L1637.1,657.2 L1643,661.3 L1645.3,675.9"/>
<circle class="bf" cx="1497.3" cy="563.8" r="5.8"/>
<circle class="w" cx="1497.3" cy="563.8" r="4.18" style="stroke-width:0.6"/>
<line class="g" x1="1495.27" y1="563.8" x2="1499.33" y2="563.8" style="stroke-width:1.3"/>
<circle class="bf" cx="1519.4" cy="563.3" r="4.8"/>
<circle cx="1519.4" cy="563.3" r="3.6" style="fill:none;stroke:#2a7a2a;stroke-width:0.6;stroke-dasharray:1.5 1.5"/>
<line class="g" x1="1518.34" y1="563.3" x2="1520.46" y2="563.3" style="stroke-width:1.3"/>
<line class="k" x1="1500" y1="560.1" x2="1519" y2="560.1" style="stroke-width:1.3"/>
<line class="k" x1="1500" y1="566.5" x2="1519" y2="566.5" style="stroke-width:1.3"/>
<rect class="kf" x="1517" y="566" width="7" height="3.5"/>
<path class="k" d="M1506.5,572.5 L1509.5,577 L1509.5,592 L1506.5,597 L1503.5,592 L1503.5,577 Z" style="stroke-width:1.6"/>
<line class="g" x1="1506.5" y1="577" x2="1506.5" y2="592" style="stroke-width:2.2"/>
<circle class="bf" cx="1527.4" cy="591" r="6.2"/>
<circle class="w" cx="1527.4" cy="591" r="4.46" style="stroke-width:0.6"/>
<line class="g" x1="1525.23" y1="591" x2="1529.57" y2="591" style="stroke-width:1.3"/>
<line class="k" x1="1546.2" y1="598.6" x2="1546.2" y2="779.1"/>
<line class="k" x1="1561.1" y1="598.6" x2="1561.1" y2="779.1"/>
<line class="k" x1="1546.2" y1="779.1" x2="1561.1" y2="779.1"/>
<circle class="bf" cx="1567" cy="623.7" r="6"/>
<circle cx="1567" cy="623.7" r="4.5" style="fill:none;stroke:#2a7a2a;stroke-width:0.6;stroke-dasharray:1.5 1.5"/>
<line class="g" x1="1565.68" y1="623.7" x2="1568.32" y2="623.7" style="stroke-width:1.3"/>
<circle class="bf" cx="1567.7" cy="674.7" r="5.5"/>
<circle cx="1567.7" cy="674.7" r="4.12" style="fill:none;stroke:#2a7a2a;stroke-width:0.6;stroke-dasharray:1.5 1.5"/>
<line class="g" x1="1566.49" y1="674.7" x2="1568.91" y2="674.7" style="stroke-width:1.3"/>
<path class="r" d="M1548.5,624 v-4.5 h8 v4.5" style="stroke-width:2.6"/>
<path class="r" d="M1578.5,577 v-5 h9 v5" style="stroke-width:2.6"/>
<path class="r" d="M1549,761 v-5 h9 v5" style="stroke-width:2.6"/>
<path class="r" d="M1727.2,575.8 L1731.7,575.8 L1731.7,585.8 L1727.2,585.8" style="stroke-width:2.6"/>
<line class="k" x1="1561.1" y1="668.9" x2="1659.9" y2="668.9"/>
<line class="k" x1="1561.1" y1="681.2" x2="1659.9" y2="681.2"/>
<rect class="k" x="1578" y="670.1" width="9.5" height="9.7" style="stroke-width:1.4"/>
<rect class="k" x="1580.5" y="672.5" width="4.5" height="4.8" style="stroke-width:1.2"/>
<rect class="k" x="1620.8" y="670.1" width="9.5" height="9.7" style="stroke-width:1.4"/>
<rect class="k" x="1623.3" y="672.5" width="4.5" height="4.8" style="stroke-width:1.2"/>
<path class="kf" d="M1590.5,672.4 a5.8,4.8 0 1,0 11.6,0 a5.8,4.8 0 1,0 -11.6,0"/>
<circle class="gf" cx="1596.3" cy="672.4" r="1"/>
<path class="kf" d="M1632.8,663 a5.5,5.5 0 0,1 11,0 z"/>
<line class="r" x1="1632" y1="663.5" x2="1645" y2="663.5" style="stroke-width:1.3"/>
<rect class="kf" x="1633" y="664.5" width="11" height="3"/>
<rect class="kf" x="1646.5" y="667.7" width="13.4" height="13.5"/>
<circle class="kf" cx="1661" cy="678.8" r="2.2"/>
<line class="g" x1="1651" y1="671" x2="1651" y2="680" style="stroke-width:1.2"/>
<line class="g" x1="1655" y1="671" x2="1655" y2="680" style="stroke-width:1.2"/>
<circle class="bf" cx="1624.3" cy="587.9" r="6"/>
<circle cx="1624.3" cy="587.9" r="4.5" style="fill:none;stroke:#2a7a2a;stroke-width:0.6;stroke-dasharray:1.5 1.5"/>
<line class="g" x1="1622.98" y1="587.9" x2="1625.62" y2="587.9" style="stroke-width:1.3"/>
<path class="k" d="M1606.2,683.5 L1600.4,696.3" style="stroke-width:3"/>
<path class="k" d="M1592,701 L1601,706 L1579,744 L1570,739 Z" style="stroke-width:1.6"/>
<line class="k" x1="1593" y1="704" x2="1600" y2="708" style="stroke-width:1.2"/>
<line class="k" x1="1572" y1="735" x2="1579" y2="739.5" style="stroke-width:1.2"/>
<path class="k" d="M1574.7,740.1 L1568,752 Q1565,756 1561,756" style="stroke-width:2.4"/>
<path class="kf" d="M1604,681 a3,3 0 1,0 5,0"/>
<circle class="m" cx="1651.7" cy="701" r="19.8"/>
<circle class="k" cx="1651.7" cy="701" r="8.75" style="stroke-width:1.8"/>
<circle class="k" cx="1651.7" cy="701" r="4.1" style="stroke-width:1.5"/>
<circle class="r" cx="1651.7" cy="701" r="2.3" style="stroke-width:1.3"/>
<line class="r" x1="1621.4" y1="701" x2="1682.6" y2="701" style="stroke-width:1.5"/>
<line class="r" x1="1651.7" y1="691" x2="1651.7" y2="705.7" style="stroke-width:1.5"/>
<line class="k" x1="1644.1" y1="706.8" x2="1619.7" y2="753.5"/>
<line class="k" x1="1647.5" y1="709.5" x2="1624.5" y2="752"/>
<line class="k" x1="1659.3" y1="706.8" x2="1684.4" y2="753.5"/>
<line class="k" x1="1656" y1="709.5" x2="1679.5" y2="752"/>
<rect class="k" x="1619.7" y="753.5" width="64.7" height="7.6"/>
<line class="k" x1="1624.1" y1="761.1" x2="1624.1" y2="779" style="stroke-width:1.1"/>
<line class="k" x1="1626.9" y1="761.1" x2="1626.9" y2="779" style="stroke-width:1.1"/>
<line class="k" x1="1676.6" y1="761.1" x2="1676.6" y2="779" style="stroke-width:1.1"/>
<line class="k" x1="1679.4" y1="761.1" x2="1679.4" y2="779" style="stroke-width:1.1"/>
<line class="k" x1="1625.5" y1="769.2" x2="1678" y2="769.2" style="stroke-width:1.2"/>
<line class="k" x1="1625.5" y1="774.5" x2="1678" y2="774.5" style="stroke-width:1.2"/>
<line class="r" x1="1624" y1="771.9" x2="1680" y2="771.9" style="stroke-width:1.5"/>
<rect x="1619.2" y="764.5" width="5.3" height="14.8" rx="2.5" style="fill:#000"/>
<rect x="1679.5" y="764.5" width="5.3" height="14.8" rx="2.5" style="fill:#000"/>
<path class="k" d="M1685.5,715.5 q2.5,-2.5 5.2,1.9" style="stroke-width:2.4"/>
<path class="k" d="M1763.4,717.4 q3,-4 5.2,-2" style="stroke-width:2.4"/>
<line class="k" x1="1690.7" y1="717.4" x2="1763.4" y2="717.4" style="stroke-width:3"/>
<path class="k" d="M1690.7,717.4 L1690.7,757 Q1690.7,760.3 1694,760.3 L1760.1,760.3 Q1763.4,760.3 1763.4,757 L1763.4,717.4" style="stroke-width:2.3"/>
<rect class="mf" x="1695" y="733.4" width="63.7" height="26.1"/>
<line class="k" x1="1697.3" y1="717.4" x2="1697.3" y2="733.6" style="stroke-width:2.5"/>
<line class="k" x1="1704.4" y1="717.4" x2="1704.4" y2="733.6" style="stroke-width:2.5"/>
<line class="k" x1="1711.5" y1="717.4" x2="1711.5" y2="733.6" style="stroke-width:2.5"/>
<line class="k" x1="1719.5" y1="717.4" x2="1719.5" y2="733.6" style="stroke-width:2.5"/>
<line class="k" x1="1726.1" y1="717.4" x2="1726.1" y2="733.6" style="stroke-width:2.5"/>
<line class="k" x1="1733.2" y1="717.4" x2="1733.2" y2="733.6" style="stroke-width:2.5"/>
<line class="k" x1="1740.8" y1="717.4" x2="1740.8" y2="733.6" style="stroke-width:2.5"/>
<line class="k" x1="1747.4" y1="717.4" x2="1747.4" y2="733.6" style="stroke-width:2.5"/>
<line class="k" x1="1755.4" y1="717.4" x2="1755.4" y2="733.6" style="stroke-width:2.5"/>
<line class="k" x1="1699.7" y1="760.3" x2="1699.7" y2="779" style="stroke-width:1.1"/>
<line class="k" x1="1702.5" y1="760.3" x2="1702.5" y2="779" style="stroke-width:1.1"/>
<line class="k" x1="1751.7" y1="760.3" x2="1751.7" y2="779" style="stroke-width:1.1"/>
<line class="k" x1="1754.5" y1="760.3" x2="1754.5" y2="779" style="stroke-width:1.1"/>
<line class="k" x1="1701.1" y1="770.3" x2="1753.1" y2="770.3" style="stroke-width:1.3"/>
<line class="k" x1="1701.1" y1="774" x2="1753.1" y2="774" style="stroke-width:1.3"/>
<line class="r" x1="1699" y1="772.1" x2="1755" y2="772.1" style="stroke-width:1.6"/>
<rect x="1694.3" y="764.5" width="5.3" height="14.8" rx="2.5" style="fill:#000"/>
<rect x="1754.6" y="764.5" width="5.3" height="14.8" rx="2.5" style="fill:#000"/>
<rect class="k" x="1714.6" y="552.5" width="8.3" height="80" style="stroke-width:1.8"/>
<circle class="bf" cx="1719.2" cy="578.3" r="6.8"/>
<line class="g" x1="1719.2" y1="572.52" x2="1719.2" y2="575.92" style="stroke-width:1.2"/>
<line class="g" x1="1719.2" y1="580.68" x2="1719.2" y2="584.08" style="stroke-width:1.2"/>
<line class="g" x1="1713.76" y1="578.3" x2="1715.46" y2="578.3" style="stroke-width:1"/>
<line class="g" x1="1722.94" y1="578.3" x2="1724.64" y2="578.3" style="stroke-width:1"/>
<circle class="gf" cx="1719.2" cy="578.3" r="0.6"/>
<path class="kf" d="M1652.5,581.5 L1664,580.8 L1666,578.5 L1672,578.5 L1674,581 L1683.3,581 L1683.3,604.2 L1674.2,604.2 L1674.2,594.2 L1652.5,594.2 Z"/>
<rect class="w" x="1653.5" y="583.5" width="3.5" height="9" style="stroke-width:1.2"/>
<line class="g" x1="1677.5" y1="581" x2="1677.5" y2="596" style="stroke-width:1.4"/>
<path class="y" d="M1675,592.5 h5" style="stroke-width:2.2"/>
<path class="k" d="M1683.3,601.5 L1720,598.3" style="stroke-width:3.4"/>
<path class="y" d="M1686,601 L1715,598.6" style="stroke-width:1.2"/>
<path class="kf" d="M1690,574 h8 v-2 h6 v2 h5 v11.5 h-19 z"/>
<line class="g" x1="1692" y1="579" x2="1708" y2="579" style="stroke-width:1.2"/>
<circle class="bf" cx="1719" cy="557.8" r="3.6"/>
<circle cx="1719" cy="557.8" r="2.7" style="fill:none;stroke:#2a7a2a;stroke-width:0.6;stroke-dasharray:1.5 1.5"/>
<line class="g" x1="1718.21" y1="557.8" x2="1719.79" y2="557.8" style="stroke-width:1.3"/>
<circle class="bf" cx="1719" cy="617" r="3.6"/>
<circle cx="1719" cy="617" r="2.7" style="fill:none;stroke:#2a7a2a;stroke-width:0.6;stroke-dasharray:1.5 1.5"/>
<line class="g" x1="1718.21" y1="617" x2="1719.79" y2="617" style="stroke-width:1.3"/>
<circle class="bf" cx="1719" cy="626" r="3.6"/>
<circle cx="1719" cy="626" r="2.7" style="fill:none;stroke:#2a7a2a;stroke-width:0.6;stroke-dasharray:1.5 1.5"/>
<line class="g" x1="1718.21" y1="626" x2="1719.79" y2="626" style="stroke-width:1.3"/>
<path class="m" d="M1650,583.3 L1706.7,584.2 M1726.7,580 L1716.7,615.8 L1721.7,622.5 L1720.4,628.3 L1721.2,733"/>
<polygon class="mf" points="1721.2,655 1718.8,636 1723.6,636"/>
</svg></body></html>
